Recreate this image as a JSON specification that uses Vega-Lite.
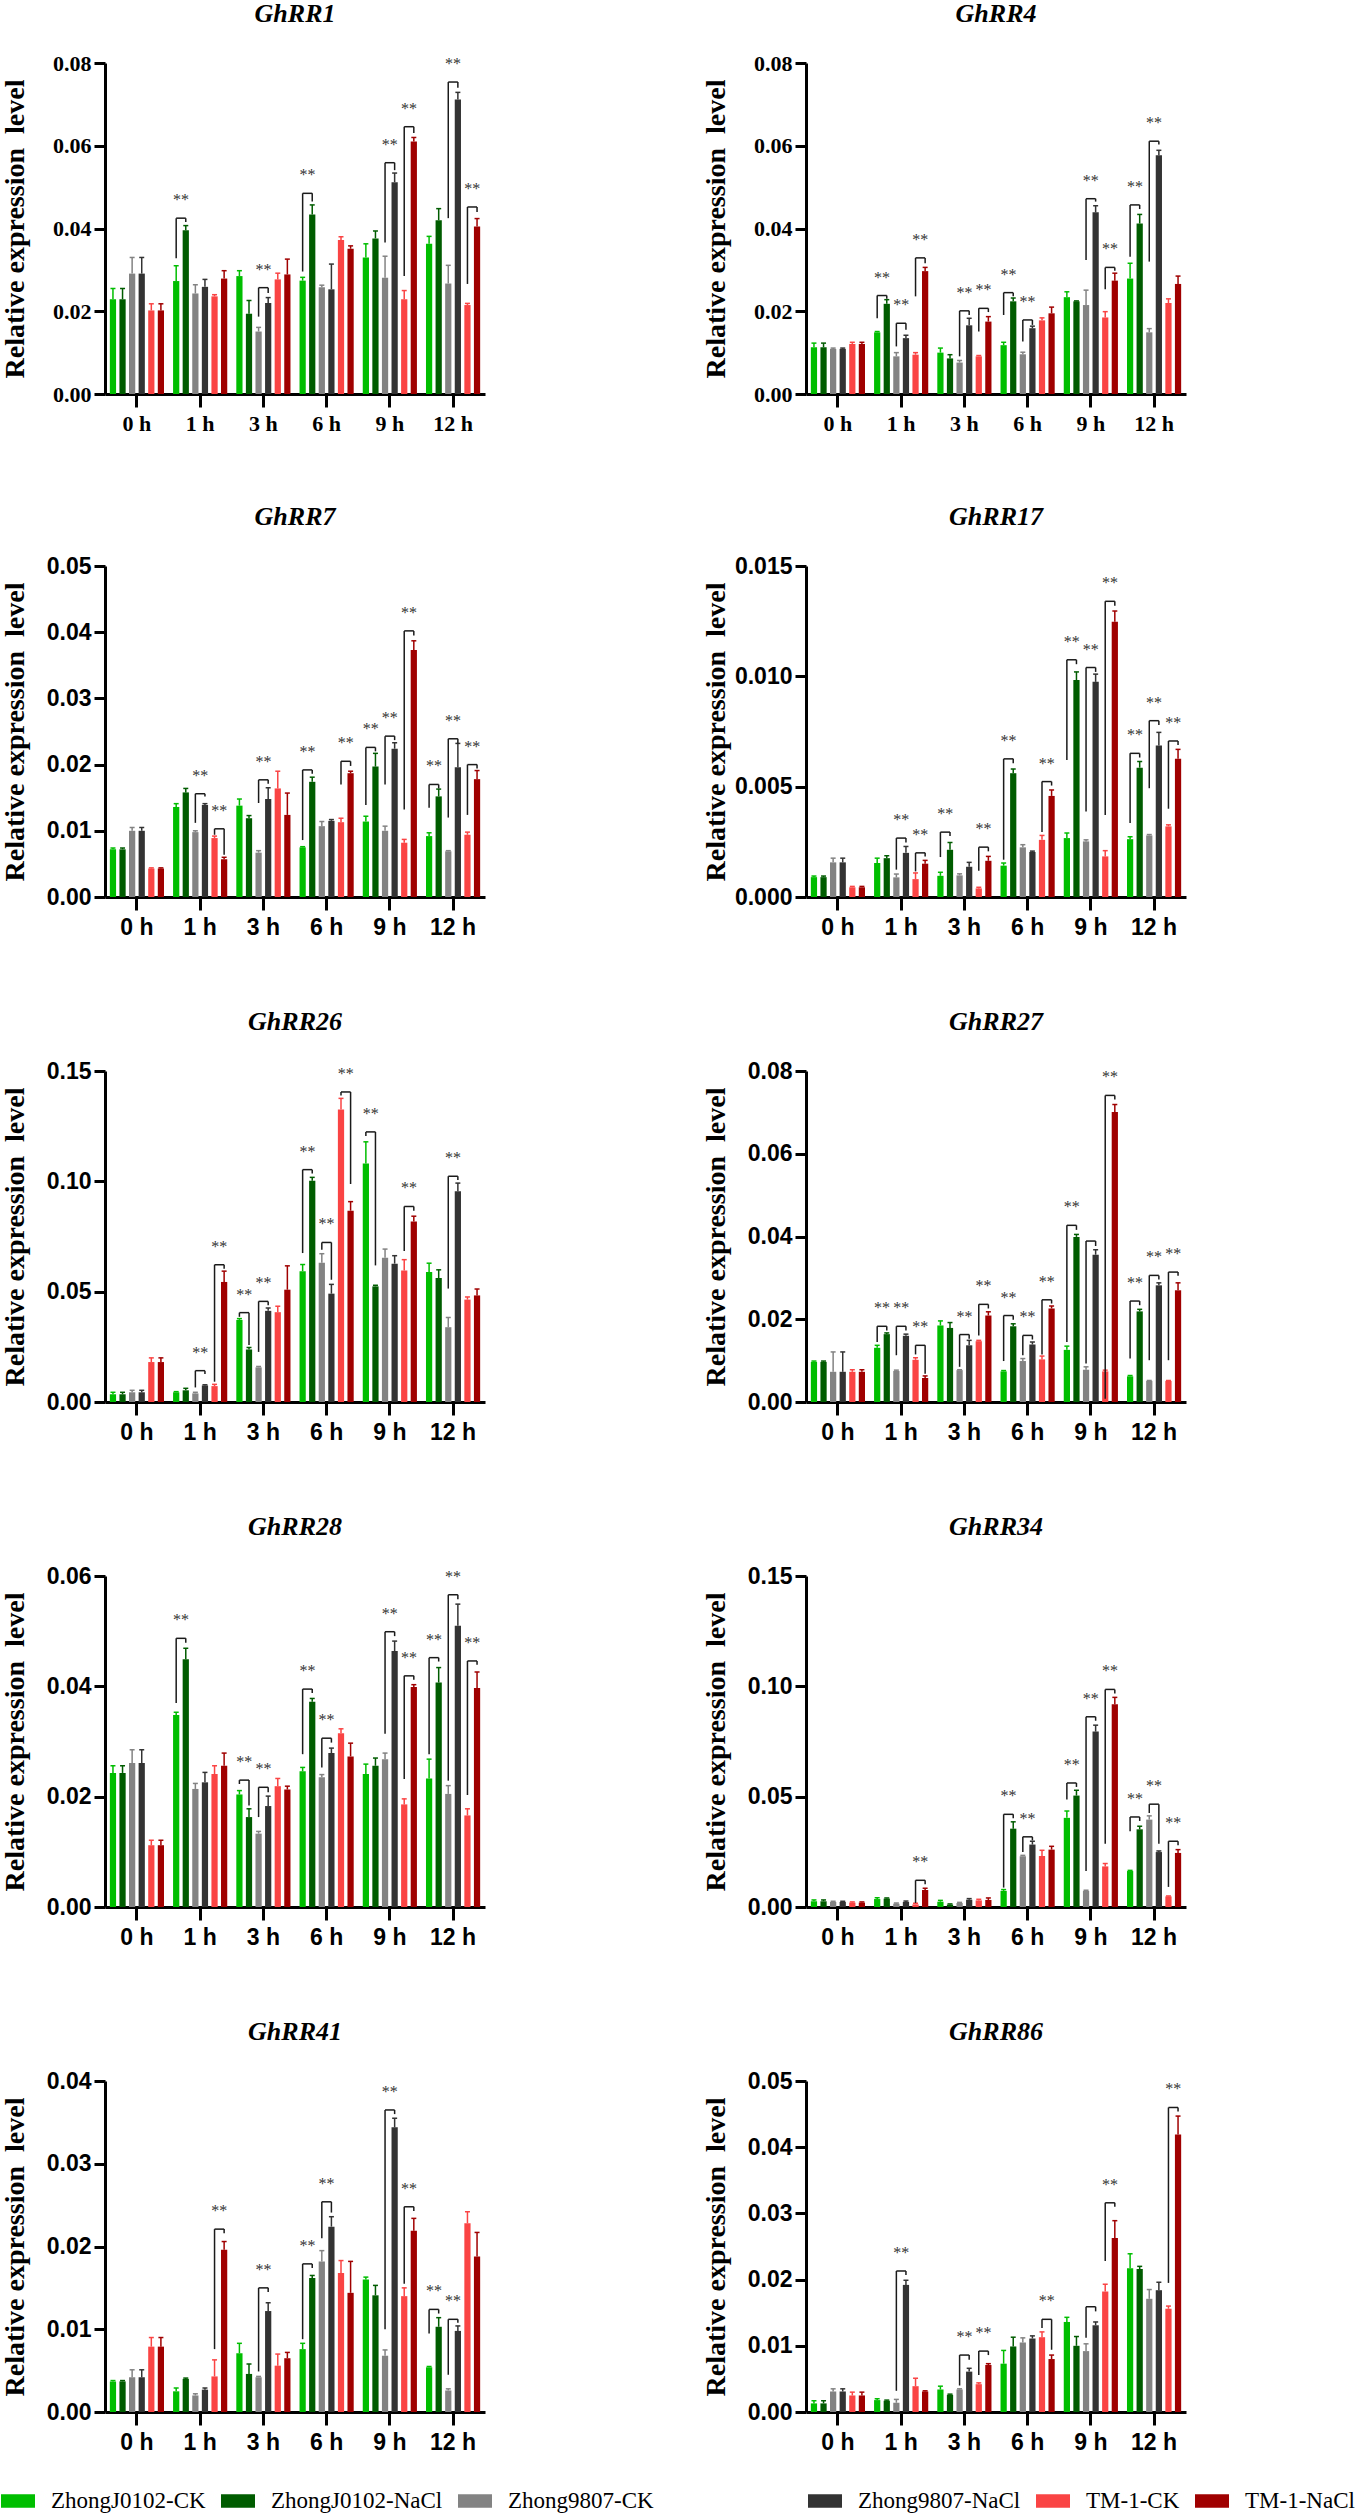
{
"$schema":"https://vega.github.io/schema/vega-lite/v6.json",
"background":"white",
"padding":{"left":0,"top":1,"right":0,"bottom":0},
"columns":2,
"spacing":{"row":70,"column":216},
"datasets":{
"bars":[
{"g":"GhRR1","t":"0 h","s":"ZhongJ0102-CK","v":0.0229,"hi":0.0255},
{"g":"GhRR1","t":"0 h","s":"ZhongJ0102-NaCl","v":0.0229,"hi":0.0255},
{"g":"GhRR1","t":"0 h","s":"Zhong9807-CK","v":0.0291,"hi":0.033},
{"g":"GhRR1","t":"0 h","s":"Zhong9807-NaCl","v":0.0291,"hi":0.033},
{"g":"GhRR1","t":"0 h","s":"TM-1-CK","v":0.0202,"hi":0.0218},
{"g":"GhRR1","t":"0 h","s":"TM-1-NaCl","v":0.0202,"hi":0.0218},
{"g":"GhRR1","t":"1 h","s":"ZhongJ0102-CK","v":0.0273,"hi":0.031},
{"g":"GhRR1","t":"1 h","s":"ZhongJ0102-NaCl","v":0.0396,"hi":0.0407},
{"g":"GhRR1","t":"1 h","s":"Zhong9807-CK","v":0.0243,"hi":0.0264},
{"g":"GhRR1","t":"1 h","s":"Zhong9807-NaCl","v":0.0259,"hi":0.0277},
{"g":"GhRR1","t":"1 h","s":"TM-1-CK","v":0.0236,"hi":0.024},
{"g":"GhRR1","t":"1 h","s":"TM-1-NaCl","v":0.0279,"hi":0.0298},
{"g":"GhRR1","t":"3 h","s":"ZhongJ0102-CK","v":0.0285,"hi":0.0298},
{"g":"GhRR1","t":"3 h","s":"ZhongJ0102-NaCl","v":0.0194,"hi":0.0226},
{"g":"GhRR1","t":"3 h","s":"Zhong9807-CK","v":0.0151,"hi":0.0161},
{"g":"GhRR1","t":"3 h","s":"Zhong9807-NaCl","v":0.022,"hi":0.0233},
{"g":"GhRR1","t":"3 h","s":"TM-1-CK","v":0.0277,"hi":0.0292},
{"g":"GhRR1","t":"3 h","s":"TM-1-NaCl","v":0.0289,"hi":0.0326},
{"g":"GhRR1","t":"6 h","s":"ZhongJ0102-CK","v":0.0274,"hi":0.0282},
{"g":"GhRR1","t":"6 h","s":"ZhongJ0102-NaCl","v":0.0434,"hi":0.0457},
{"g":"GhRR1","t":"6 h","s":"Zhong9807-CK","v":0.0258,"hi":0.0263},
{"g":"GhRR1","t":"6 h","s":"Zhong9807-NaCl","v":0.0253,"hi":0.0314},
{"g":"GhRR1","t":"6 h","s":"TM-1-CK","v":0.0372,"hi":0.038},
{"g":"GhRR1","t":"6 h","s":"TM-1-NaCl","v":0.0351,"hi":0.0358},
{"g":"GhRR1","t":"9 h","s":"ZhongJ0102-CK","v":0.033,"hi":0.0363},
{"g":"GhRR1","t":"9 h","s":"ZhongJ0102-NaCl","v":0.0376,"hi":0.0394},
{"g":"GhRR1","t":"9 h","s":"Zhong9807-CK","v":0.0281,"hi":0.0333},
{"g":"GhRR1","t":"9 h","s":"Zhong9807-NaCl","v":0.0512,"hi":0.0534},
{"g":"GhRR1","t":"9 h","s":"TM-1-CK","v":0.0229,"hi":0.025},
{"g":"GhRR1","t":"9 h","s":"TM-1-NaCl","v":0.061,"hi":0.062},
{"g":"GhRR1","t":"12 h","s":"ZhongJ0102-CK","v":0.0363,"hi":0.0381},
{"g":"GhRR1","t":"12 h","s":"ZhongJ0102-NaCl","v":0.042,"hi":0.0448},
{"g":"GhRR1","t":"12 h","s":"Zhong9807-CK","v":0.0267,"hi":0.0311},
{"g":"GhRR1","t":"12 h","s":"Zhong9807-NaCl","v":0.0712,"hi":0.0729},
{"g":"GhRR1","t":"12 h","s":"TM-1-CK","v":0.0215,"hi":0.0219},
{"g":"GhRR1","t":"12 h","s":"TM-1-NaCl","v":0.0405,"hi":0.0424},
{"g":"GhRR4","t":"0 h","s":"ZhongJ0102-CK","v":0.0113,"hi":0.0123},
{"g":"GhRR4","t":"0 h","s":"ZhongJ0102-NaCl","v":0.0113,"hi":0.0123},
{"g":"GhRR4","t":"0 h","s":"Zhong9807-CK","v":0.0109,"hi":0.0111},
{"g":"GhRR4","t":"0 h","s":"Zhong9807-NaCl","v":0.0109,"hi":0.0111},
{"g":"GhRR4","t":"0 h","s":"TM-1-CK","v":0.0121,"hi":0.0125},
{"g":"GhRR4","t":"0 h","s":"TM-1-NaCl","v":0.0121,"hi":0.0125},
{"g":"GhRR4","t":"1 h","s":"ZhongJ0102-CK","v":0.0149,"hi":0.0151},
{"g":"GhRR4","t":"1 h","s":"ZhongJ0102-NaCl","v":0.0218,"hi":0.0228},
{"g":"GhRR4","t":"1 h","s":"Zhong9807-CK","v":0.0091,"hi":0.01},
{"g":"GhRR4","t":"1 h","s":"Zhong9807-NaCl","v":0.0135,"hi":0.0142},
{"g":"GhRR4","t":"1 h","s":"TM-1-CK","v":0.0095,"hi":0.01},
{"g":"GhRR4","t":"1 h","s":"TM-1-NaCl","v":0.0297,"hi":0.0306},
{"g":"GhRR4","t":"3 h","s":"ZhongJ0102-CK","v":0.01,"hi":0.0111},
{"g":"GhRR4","t":"3 h","s":"ZhongJ0102-NaCl","v":0.0086,"hi":0.0095},
{"g":"GhRR4","t":"3 h","s":"Zhong9807-CK","v":0.0076,"hi":0.0081},
{"g":"GhRR4","t":"3 h","s":"Zhong9807-NaCl","v":0.0166,"hi":0.0183},
{"g":"GhRR4","t":"3 h","s":"TM-1-CK","v":0.0091,"hi":0.0093},
{"g":"GhRR4","t":"3 h","s":"TM-1-NaCl","v":0.0175,"hi":0.0187},
{"g":"GhRR4","t":"6 h","s":"ZhongJ0102-CK","v":0.0118,"hi":0.0125},
{"g":"GhRR4","t":"6 h","s":"ZhongJ0102-NaCl","v":0.0224,"hi":0.0232},
{"g":"GhRR4","t":"6 h","s":"Zhong9807-CK","v":0.0096,"hi":0.0101},
{"g":"GhRR4","t":"6 h","s":"Zhong9807-NaCl","v":0.0159,"hi":0.0164},
{"g":"GhRR4","t":"6 h","s":"TM-1-CK","v":0.0178,"hi":0.0184},
{"g":"GhRR4","t":"6 h","s":"TM-1-NaCl","v":0.0195,"hi":0.021},
{"g":"GhRR4","t":"9 h","s":"ZhongJ0102-CK","v":0.0234,"hi":0.0247},
{"g":"GhRR4","t":"9 h","s":"ZhongJ0102-NaCl","v":0.0224,"hi":0.0225},
{"g":"GhRR4","t":"9 h","s":"Zhong9807-CK","v":0.0215,"hi":0.0251},
{"g":"GhRR4","t":"9 h","s":"Zhong9807-NaCl","v":0.0439,"hi":0.0455},
{"g":"GhRR4","t":"9 h","s":"TM-1-CK","v":0.0185,"hi":0.0199},
{"g":"GhRR4","t":"9 h","s":"TM-1-NaCl","v":0.0274,"hi":0.0292},
{"g":"GhRR4","t":"12 h","s":"ZhongJ0102-CK","v":0.0279,"hi":0.0316},
{"g":"GhRR4","t":"12 h","s":"ZhongJ0102-NaCl","v":0.0412,"hi":0.0434},
{"g":"GhRR4","t":"12 h","s":"Zhong9807-CK","v":0.0149,"hi":0.0158},
{"g":"GhRR4","t":"12 h","s":"Zhong9807-NaCl","v":0.0577,"hi":0.0589},
{"g":"GhRR4","t":"12 h","s":"TM-1-CK","v":0.022,"hi":0.023},
{"g":"GhRR4","t":"12 h","s":"TM-1-NaCl","v":0.0266,"hi":0.0285},
{"g":"GhRR7","t":"0 h","s":"ZhongJ0102-CK","v":0.0072,"hi":0.0074},
{"g":"GhRR7","t":"0 h","s":"ZhongJ0102-NaCl","v":0.0072,"hi":0.0074},
{"g":"GhRR7","t":"0 h","s":"Zhong9807-CK","v":0.01,"hi":0.0105},
{"g":"GhRR7","t":"0 h","s":"Zhong9807-NaCl","v":0.01,"hi":0.0105},
{"g":"GhRR7","t":"0 h","s":"TM-1-CK","v":0.0043,"hi":0.0044},
{"g":"GhRR7","t":"0 h","s":"TM-1-NaCl","v":0.0043,"hi":0.0044},
{"g":"GhRR7","t":"1 h","s":"ZhongJ0102-CK","v":0.0136,"hi":0.0141},
{"g":"GhRR7","t":"1 h","s":"ZhongJ0102-NaCl","v":0.0158,"hi":0.0164},
{"g":"GhRR7","t":"1 h","s":"Zhong9807-CK","v":0.0098,"hi":0.01},
{"g":"GhRR7","t":"1 h","s":"Zhong9807-NaCl","v":0.0139,"hi":0.0141},
{"g":"GhRR7","t":"1 h","s":"TM-1-CK","v":0.0089,"hi":0.0092},
{"g":"GhRR7","t":"1 h","s":"TM-1-NaCl","v":0.0057,"hi":0.006},
{"g":"GhRR7","t":"3 h","s":"ZhongJ0102-CK","v":0.0138,"hi":0.0148},
{"g":"GhRR7","t":"3 h","s":"ZhongJ0102-NaCl","v":0.0119,"hi":0.0123},
{"g":"GhRR7","t":"3 h","s":"Zhong9807-CK","v":0.0067,"hi":0.007},
{"g":"GhRR7","t":"3 h","s":"Zhong9807-NaCl","v":0.0148,"hi":0.0165},
{"g":"GhRR7","t":"3 h","s":"TM-1-CK","v":0.0164,"hi":0.019},
{"g":"GhRR7","t":"3 h","s":"TM-1-NaCl","v":0.0124,"hi":0.0157},
{"g":"GhRR7","t":"6 h","s":"ZhongJ0102-CK","v":0.0075,"hi":0.0076},
{"g":"GhRR7","t":"6 h","s":"ZhongJ0102-NaCl","v":0.0174,"hi":0.0181},
{"g":"GhRR7","t":"6 h","s":"Zhong9807-CK","v":0.0107,"hi":0.0114},
{"g":"GhRR7","t":"6 h","s":"Zhong9807-NaCl","v":0.0115,"hi":0.0117},
{"g":"GhRR7","t":"6 h","s":"TM-1-CK","v":0.0113,"hi":0.0119},
{"g":"GhRR7","t":"6 h","s":"TM-1-NaCl","v":0.0187,"hi":0.019},
{"g":"GhRR7","t":"9 h","s":"ZhongJ0102-CK","v":0.0114,"hi":0.0122},
{"g":"GhRR7","t":"9 h","s":"ZhongJ0102-NaCl","v":0.0197,"hi":0.0217},
{"g":"GhRR7","t":"9 h","s":"Zhong9807-CK","v":0.01,"hi":0.0107},
{"g":"GhRR7","t":"9 h","s":"Zhong9807-NaCl","v":0.0224,"hi":0.0233},
{"g":"GhRR7","t":"9 h","s":"TM-1-CK","v":0.0082,"hi":0.0087},
{"g":"GhRR7","t":"9 h","s":"TM-1-NaCl","v":0.0373,"hi":0.0387},
{"g":"GhRR7","t":"12 h","s":"ZhongJ0102-CK","v":0.0092,"hi":0.0097},
{"g":"GhRR7","t":"12 h","s":"ZhongJ0102-NaCl","v":0.0152,"hi":0.0163},
{"g":"GhRR7","t":"12 h","s":"Zhong9807-CK","v":0.0069,"hi":0.007},
{"g":"GhRR7","t":"12 h","s":"Zhong9807-NaCl","v":0.0196,"hi":0.0232},
{"g":"GhRR7","t":"12 h","s":"TM-1-CK","v":0.0094,"hi":0.0098},
{"g":"GhRR7","t":"12 h","s":"TM-1-NaCl","v":0.0178,"hi":0.0191},
{"g":"GhRR17","t":"0 h","s":"ZhongJ0102-CK","v":0.0009,"hi":0.00095},
{"g":"GhRR17","t":"0 h","s":"ZhongJ0102-NaCl","v":0.0009,"hi":0.00095},
{"g":"GhRR17","t":"0 h","s":"Zhong9807-CK","v":0.00157,"hi":0.00176},
{"g":"GhRR17","t":"0 h","s":"Zhong9807-NaCl","v":0.00157,"hi":0.00176},
{"g":"GhRR17","t":"0 h","s":"TM-1-CK","v":0.00044,"hi":0.00048},
{"g":"GhRR17","t":"0 h","s":"TM-1-NaCl","v":0.00044,"hi":0.00048},
{"g":"GhRR17","t":"1 h","s":"ZhongJ0102-CK","v":0.00154,"hi":0.00176},
{"g":"GhRR17","t":"1 h","s":"ZhongJ0102-NaCl","v":0.00176,"hi":0.00187},
{"g":"GhRR17","t":"1 h","s":"Zhong9807-CK","v":0.00089,"hi":0.00104},
{"g":"GhRR17","t":"1 h","s":"Zhong9807-NaCl","v":0.002,"hi":0.00229},
{"g":"GhRR17","t":"1 h","s":"TM-1-CK","v":0.00081,"hi":0.00109},
{"g":"GhRR17","t":"1 h","s":"TM-1-NaCl","v":0.00151,"hi":0.00166},
{"g":"GhRR17","t":"3 h","s":"ZhongJ0102-CK","v":0.00096,"hi":0.00112},
{"g":"GhRR17","t":"3 h","s":"ZhongJ0102-NaCl","v":0.00214,"hi":0.00247},
{"g":"GhRR17","t":"3 h","s":"Zhong9807-CK","v":0.00098,"hi":0.00105},
{"g":"GhRR17","t":"3 h","s":"Zhong9807-NaCl","v":0.00137,"hi":0.00157},
{"g":"GhRR17","t":"3 h","s":"TM-1-CK","v":0.00039,"hi":0.00044},
{"g":"GhRR17","t":"3 h","s":"TM-1-NaCl","v":0.00164,"hi":0.00184},
{"g":"GhRR17","t":"6 h","s":"ZhongJ0102-CK","v":0.00142,"hi":0.00154},
{"g":"GhRR17","t":"6 h","s":"ZhongJ0102-NaCl","v":0.00561,"hi":0.0058},
{"g":"GhRR17","t":"6 h","s":"Zhong9807-CK","v":0.00225,"hi":0.00237},
{"g":"GhRR17","t":"6 h","s":"Zhong9807-NaCl","v":0.00204,"hi":0.00208},
{"g":"GhRR17","t":"6 h","s":"TM-1-CK","v":0.00259,"hi":0.00279},
{"g":"GhRR17","t":"6 h","s":"TM-1-NaCl","v":0.00458,"hi":0.00485},
{"g":"GhRR17","t":"9 h","s":"ZhongJ0102-CK","v":0.00267,"hi":0.0029},
{"g":"GhRR17","t":"9 h","s":"ZhongJ0102-NaCl","v":0.00983,"hi":0.0102},
{"g":"GhRR17","t":"9 h","s":"Zhong9807-CK","v":0.00252,"hi":0.00259},
{"g":"GhRR17","t":"9 h","s":"Zhong9807-NaCl","v":0.00975,"hi":0.0101},
{"g":"GhRR17","t":"9 h","s":"TM-1-CK","v":0.00184,"hi":0.0021},
{"g":"GhRR17","t":"9 h","s":"TM-1-NaCl","v":0.01247,"hi":0.01296},
{"g":"GhRR17","t":"12 h","s":"ZhongJ0102-CK","v":0.00262,"hi":0.00273},
{"g":"GhRR17","t":"12 h","s":"ZhongJ0102-NaCl","v":0.00586,"hi":0.00614},
{"g":"GhRR17","t":"12 h","s":"Zhong9807-CK","v":0.00279,"hi":0.00283},
{"g":"GhRR17","t":"12 h","s":"Zhong9807-NaCl","v":0.00686,"hi":0.00746},
{"g":"GhRR17","t":"12 h","s":"TM-1-CK","v":0.0032,"hi":0.00327},
{"g":"GhRR17","t":"12 h","s":"TM-1-NaCl","v":0.00626,"hi":0.00669},
{"g":"GhRR26","t":"0 h","s":"ZhongJ0102-CK","v":0.0035,"hi":0.0044},
{"g":"GhRR26","t":"0 h","s":"ZhongJ0102-NaCl","v":0.0035,"hi":0.0044},
{"g":"GhRR26","t":"0 h","s":"Zhong9807-CK","v":0.0044,"hi":0.0053},
{"g":"GhRR26","t":"0 h","s":"Zhong9807-NaCl","v":0.0044,"hi":0.0053},
{"g":"GhRR26","t":"0 h","s":"TM-1-CK","v":0.0181,"hi":0.02},
{"g":"GhRR26","t":"0 h","s":"TM-1-NaCl","v":0.0181,"hi":0.02},
{"g":"GhRR26","t":"1 h","s":"ZhongJ0102-CK","v":0.0044,"hi":0.0047},
{"g":"GhRR26","t":"1 h","s":"ZhongJ0102-NaCl","v":0.0053,"hi":0.0062},
{"g":"GhRR26","t":"1 h","s":"Zhong9807-CK","v":0.0039,"hi":0.0044},
{"g":"GhRR26","t":"1 h","s":"Zhong9807-NaCl","v":0.0075,"hi":0.0078},
{"g":"GhRR26","t":"1 h","s":"TM-1-CK","v":0.0072,"hi":0.008},
{"g":"GhRR26","t":"1 h","s":"TM-1-NaCl","v":0.0544,"hi":0.0593},
{"g":"GhRR26","t":"3 h","s":"ZhongJ0102-CK","v":0.0372,"hi":0.0378},
{"g":"GhRR26","t":"3 h","s":"ZhongJ0102-NaCl","v":0.0238,"hi":0.0247},
{"g":"GhRR26","t":"3 h","s":"Zhong9807-CK","v":0.0157,"hi":0.0161},
{"g":"GhRR26","t":"3 h","s":"Zhong9807-NaCl","v":0.0413,"hi":0.0426},
{"g":"GhRR26","t":"3 h","s":"TM-1-CK","v":0.0407,"hi":0.0434},
{"g":"GhRR26","t":"3 h","s":"TM-1-NaCl","v":0.0509,"hi":0.0617},
{"g":"GhRR26","t":"6 h","s":"ZhongJ0102-CK","v":0.0593,"hi":0.0623},
{"g":"GhRR26","t":"6 h","s":"ZhongJ0102-NaCl","v":0.1003,"hi":0.1018},
{"g":"GhRR26","t":"6 h","s":"Zhong9807-CK","v":0.0631,"hi":0.0672},
{"g":"GhRR26","t":"6 h","s":"Zhong9807-NaCl","v":0.0491,"hi":0.0533},
{"g":"GhRR26","t":"6 h","s":"TM-1-CK","v":0.1325,"hi":0.1376},
{"g":"GhRR26","t":"6 h","s":"TM-1-NaCl","v":0.0867,"hi":0.0908},
{"g":"GhRR26","t":"9 h","s":"ZhongJ0102-CK","v":0.1081,"hi":0.1179},
{"g":"GhRR26","t":"9 h","s":"ZhongJ0102-NaCl","v":0.0524,"hi":0.0529},
{"g":"GhRR26","t":"9 h","s":"Zhong9807-CK","v":0.0654,"hi":0.0693},
{"g":"GhRR26","t":"9 h","s":"Zhong9807-NaCl","v":0.0627,"hi":0.0663},
{"g":"GhRR26","t":"9 h","s":"TM-1-CK","v":0.0596,"hi":0.0645},
{"g":"GhRR26","t":"9 h","s":"TM-1-NaCl","v":0.0818,"hi":0.0842},
{"g":"GhRR26","t":"12 h","s":"ZhongJ0102-CK","v":0.0589,"hi":0.0629},
{"g":"GhRR26","t":"12 h","s":"ZhongJ0102-NaCl","v":0.0562,"hi":0.0599},
{"g":"GhRR26","t":"12 h","s":"Zhong9807-CK","v":0.0339,"hi":0.0383},
{"g":"GhRR26","t":"12 h","s":"Zhong9807-NaCl","v":0.0955,"hi":0.0992},
{"g":"GhRR26","t":"12 h","s":"TM-1-CK","v":0.0464,"hi":0.0476},
{"g":"GhRR26","t":"12 h","s":"TM-1-NaCl","v":0.0483,"hi":0.0512},
{"g":"GhRR27","t":"0 h","s":"ZhongJ0102-CK","v":0.0097,"hi":0.0099},
{"g":"GhRR27","t":"0 h","s":"ZhongJ0102-NaCl","v":0.0097,"hi":0.0099},
{"g":"GhRR27","t":"0 h","s":"Zhong9807-CK","v":0.0073,"hi":0.0121},
{"g":"GhRR27","t":"0 h","s":"Zhong9807-NaCl","v":0.0073,"hi":0.0121},
{"g":"GhRR27","t":"0 h","s":"TM-1-CK","v":0.0073,"hi":0.0078},
{"g":"GhRR27","t":"0 h","s":"TM-1-NaCl","v":0.0073,"hi":0.0078},
{"g":"GhRR27","t":"1 h","s":"ZhongJ0102-CK","v":0.0131,"hi":0.0137},
{"g":"GhRR27","t":"1 h","s":"ZhongJ0102-NaCl","v":0.0164,"hi":0.0167},
{"g":"GhRR27","t":"1 h","s":"Zhong9807-CK","v":0.0075,"hi":0.0077},
{"g":"GhRR27","t":"1 h","s":"Zhong9807-NaCl","v":0.016,"hi":0.0164},
{"g":"GhRR27","t":"1 h","s":"TM-1-CK","v":0.0102,"hi":0.0107},
{"g":"GhRR27","t":"1 h","s":"TM-1-NaCl","v":0.0058,"hi":0.0063},
{"g":"GhRR27","t":"3 h","s":"ZhongJ0102-CK","v":0.0185,"hi":0.0196},
{"g":"GhRR27","t":"3 h","s":"ZhongJ0102-NaCl","v":0.0179,"hi":0.0192},
{"g":"GhRR27","t":"3 h","s":"Zhong9807-CK","v":0.0077,"hi":0.0078},
{"g":"GhRR27","t":"3 h","s":"Zhong9807-NaCl","v":0.0137,"hi":0.0149},
{"g":"GhRR27","t":"3 h","s":"TM-1-CK","v":0.0147,"hi":0.0149},
{"g":"GhRR27","t":"3 h","s":"TM-1-NaCl","v":0.0209,"hi":0.0218},
{"g":"GhRR27","t":"6 h","s":"ZhongJ0102-CK","v":0.0074,"hi":0.0076},
{"g":"GhRR27","t":"6 h","s":"ZhongJ0102-NaCl","v":0.0183,"hi":0.0189},
{"g":"GhRR27","t":"6 h","s":"Zhong9807-CK","v":0.0099,"hi":0.0105},
{"g":"GhRR27","t":"6 h","s":"Zhong9807-NaCl","v":0.0139,"hi":0.0145},
{"g":"GhRR27","t":"6 h","s":"TM-1-CK","v":0.0103,"hi":0.0111},
{"g":"GhRR27","t":"6 h","s":"TM-1-NaCl","v":0.0226,"hi":0.0232},
{"g":"GhRR27","t":"9 h","s":"ZhongJ0102-CK","v":0.0126,"hi":0.0135},
{"g":"GhRR27","t":"9 h","s":"ZhongJ0102-NaCl","v":0.0399,"hi":0.0405},
{"g":"GhRR27","t":"9 h","s":"Zhong9807-CK","v":0.0078,"hi":0.0085},
{"g":"GhRR27","t":"9 h","s":"Zhong9807-NaCl","v":0.0356,"hi":0.0368},
{"g":"GhRR27","t":"9 h","s":"TM-1-CK","v":0.0074,"hi":0.0077},
{"g":"GhRR27","t":"9 h","s":"TM-1-NaCl","v":0.0701,"hi":0.0719},
{"g":"GhRR27","t":"12 h","s":"ZhongJ0102-CK","v":0.0062,"hi":0.0064},
{"g":"GhRR27","t":"12 h","s":"ZhongJ0102-NaCl","v":0.0219,"hi":0.0224},
{"g":"GhRR27","t":"12 h","s":"Zhong9807-CK","v":0.0051,"hi":0.0052},
{"g":"GhRR27","t":"12 h","s":"Zhong9807-NaCl","v":0.0282,"hi":0.0288},
{"g":"GhRR27","t":"12 h","s":"TM-1-CK","v":0.0051,"hi":0.0052},
{"g":"GhRR27","t":"12 h","s":"TM-1-NaCl","v":0.027,"hi":0.0288},
{"g":"GhRR28","t":"0 h","s":"ZhongJ0102-CK","v":0.0243,"hi":0.0256},
{"g":"GhRR28","t":"0 h","s":"ZhongJ0102-NaCl","v":0.0243,"hi":0.0256},
{"g":"GhRR28","t":"0 h","s":"Zhong9807-CK","v":0.0261,"hi":0.0285},
{"g":"GhRR28","t":"0 h","s":"Zhong9807-NaCl","v":0.0261,"hi":0.0285},
{"g":"GhRR28","t":"0 h","s":"TM-1-CK","v":0.0112,"hi":0.0121},
{"g":"GhRR28","t":"0 h","s":"TM-1-NaCl","v":0.0112,"hi":0.0121},
{"g":"GhRR28","t":"1 h","s":"ZhongJ0102-CK","v":0.0348,"hi":0.0353},
{"g":"GhRR28","t":"1 h","s":"ZhongJ0102-NaCl","v":0.0449,"hi":0.0469},
{"g":"GhRR28","t":"1 h","s":"Zhong9807-CK","v":0.0214,"hi":0.0224},
{"g":"GhRR28","t":"1 h","s":"Zhong9807-NaCl","v":0.0226,"hi":0.0244},
{"g":"GhRR28","t":"1 h","s":"TM-1-CK","v":0.0241,"hi":0.0256},
{"g":"GhRR28","t":"1 h","s":"TM-1-NaCl","v":0.0256,"hi":0.0279},
{"g":"GhRR28","t":"3 h","s":"ZhongJ0102-CK","v":0.0204,"hi":0.0211},
{"g":"GhRR28","t":"3 h","s":"ZhongJ0102-NaCl","v":0.0163,"hi":0.0178},
{"g":"GhRR28","t":"3 h","s":"Zhong9807-CK","v":0.0133,"hi":0.0137},
{"g":"GhRR28","t":"3 h","s":"Zhong9807-NaCl","v":0.0183,"hi":0.0201},
{"g":"GhRR28","t":"3 h","s":"TM-1-CK","v":0.0219,"hi":0.0233},
{"g":"GhRR28","t":"3 h","s":"TM-1-NaCl","v":0.0213,"hi":0.0219},
{"g":"GhRR28","t":"6 h","s":"ZhongJ0102-CK","v":0.0246,"hi":0.0253},
{"g":"GhRR28","t":"6 h","s":"ZhongJ0102-NaCl","v":0.0372,"hi":0.0378},
{"g":"GhRR28","t":"6 h","s":"Zhong9807-CK","v":0.0235,"hi":0.024},
{"g":"GhRR28","t":"6 h","s":"Zhong9807-NaCl","v":0.0279,"hi":0.0288},
{"g":"GhRR28","t":"6 h","s":"TM-1-CK","v":0.0315,"hi":0.0323},
{"g":"GhRR28","t":"6 h","s":"TM-1-NaCl","v":0.0273,"hi":0.0297},
{"g":"GhRR28","t":"9 h","s":"ZhongJ0102-CK","v":0.0241,"hi":0.0259},
{"g":"GhRR28","t":"9 h","s":"ZhongJ0102-NaCl","v":0.0256,"hi":0.027},
{"g":"GhRR28","t":"9 h","s":"Zhong9807-CK","v":0.0268,"hi":0.0279},
{"g":"GhRR28","t":"9 h","s":"Zhong9807-NaCl","v":0.0464,"hi":0.0482},
{"g":"GhRR28","t":"9 h","s":"TM-1-CK","v":0.0186,"hi":0.0196},
{"g":"GhRR28","t":"9 h","s":"TM-1-NaCl","v":0.0399,"hi":0.0403},
{"g":"GhRR28","t":"12 h","s":"ZhongJ0102-CK","v":0.0233,"hi":0.0268},
{"g":"GhRR28","t":"12 h","s":"ZhongJ0102-NaCl","v":0.0407,"hi":0.0434},
{"g":"GhRR28","t":"12 h","s":"Zhong9807-CK","v":0.0205,"hi":0.022},
{"g":"GhRR28","t":"12 h","s":"Zhong9807-NaCl","v":0.051,"hi":0.0549},
{"g":"GhRR28","t":"12 h","s":"TM-1-CK","v":0.0166,"hi":0.0178},
{"g":"GhRR28","t":"12 h","s":"TM-1-NaCl","v":0.0397,"hi":0.0426},
{"g":"GhRR34","t":"0 h","s":"ZhongJ0102-CK","v":0.0026,"hi":0.0032},
{"g":"GhRR34","t":"0 h","s":"ZhongJ0102-NaCl","v":0.0026,"hi":0.0032},
{"g":"GhRR34","t":"0 h","s":"Zhong9807-CK","v":0.0023,"hi":0.0026},
{"g":"GhRR34","t":"0 h","s":"Zhong9807-NaCl","v":0.0023,"hi":0.0026},
{"g":"GhRR34","t":"0 h","s":"TM-1-CK","v":0.002,"hi":0.0023},
{"g":"GhRR34","t":"0 h","s":"TM-1-NaCl","v":0.002,"hi":0.0023},
{"g":"GhRR34","t":"1 h","s":"ZhongJ0102-CK","v":0.0036,"hi":0.0042},
{"g":"GhRR34","t":"1 h","s":"ZhongJ0102-NaCl","v":0.0038,"hi":0.0041},
{"g":"GhRR34","t":"1 h","s":"Zhong9807-CK","v":0.0015,"hi":0.0018},
{"g":"GhRR34","t":"1 h","s":"Zhong9807-NaCl","v":0.0023,"hi":0.0027},
{"g":"GhRR34","t":"1 h","s":"TM-1-CK","v":0.0012,"hi":0.0017},
{"g":"GhRR34","t":"1 h","s":"TM-1-NaCl","v":0.0077,"hi":0.0085},
{"g":"GhRR34","t":"3 h","s":"ZhongJ0102-CK","v":0.0024,"hi":0.003},
{"g":"GhRR34","t":"3 h","s":"ZhongJ0102-NaCl","v":0.0011,"hi":0.0014},
{"g":"GhRR34","t":"3 h","s":"Zhong9807-CK","v":0.0018,"hi":0.0021},
{"g":"GhRR34","t":"3 h","s":"Zhong9807-NaCl","v":0.0033,"hi":0.0038},
{"g":"GhRR34","t":"3 h","s":"TM-1-CK","v":0.003,"hi":0.0035},
{"g":"GhRR34","t":"3 h","s":"TM-1-NaCl","v":0.0032,"hi":0.0041},
{"g":"GhRR34","t":"6 h","s":"ZhongJ0102-CK","v":0.0073,"hi":0.0079},
{"g":"GhRR34","t":"6 h","s":"ZhongJ0102-NaCl","v":0.0355,"hi":0.0386},
{"g":"GhRR34","t":"6 h","s":"Zhong9807-CK","v":0.023,"hi":0.0234},
{"g":"GhRR34","t":"6 h","s":"Zhong9807-NaCl","v":0.0283,"hi":0.0298},
{"g":"GhRR34","t":"6 h","s":"TM-1-CK","v":0.0231,"hi":0.0257},
{"g":"GhRR34","t":"6 h","s":"TM-1-NaCl","v":0.026,"hi":0.0275},
{"g":"GhRR34","t":"9 h","s":"ZhongJ0102-CK","v":0.0404,"hi":0.0435},
{"g":"GhRR34","t":"9 h","s":"ZhongJ0102-NaCl","v":0.0505,"hi":0.0529},
{"g":"GhRR34","t":"9 h","s":"Zhong9807-CK","v":0.0073,"hi":0.0076},
{"g":"GhRR34","t":"9 h","s":"Zhong9807-NaCl","v":0.0795,"hi":0.0824},
{"g":"GhRR34","t":"9 h","s":"TM-1-CK","v":0.0184,"hi":0.0197},
{"g":"GhRR34","t":"9 h","s":"TM-1-NaCl","v":0.0919,"hi":0.095},
{"g":"GhRR34","t":"12 h","s":"ZhongJ0102-CK","v":0.0163,"hi":0.0166},
{"g":"GhRR34","t":"12 h","s":"ZhongJ0102-NaCl","v":0.0352,"hi":0.0366},
{"g":"GhRR34","t":"12 h","s":"Zhong9807-CK","v":0.0396,"hi":0.0413},
{"g":"GhRR34","t":"12 h","s":"Zhong9807-NaCl","v":0.0249,"hi":0.0254},
{"g":"GhRR34","t":"12 h","s":"TM-1-CK","v":0.0048,"hi":0.005},
{"g":"GhRR34","t":"12 h","s":"TM-1-NaCl","v":0.0245,"hi":0.026},
{"g":"GhRR41","t":"0 h","s":"ZhongJ0102-CK","v":0.0037,"hi":0.0038},
{"g":"GhRR41","t":"0 h","s":"ZhongJ0102-NaCl","v":0.0037,"hi":0.0038},
{"g":"GhRR41","t":"0 h","s":"Zhong9807-CK","v":0.0042,"hi":0.0051},
{"g":"GhRR41","t":"0 h","s":"Zhong9807-NaCl","v":0.0042,"hi":0.0051},
{"g":"GhRR41","t":"0 h","s":"TM-1-CK","v":0.0079,"hi":0.009},
{"g":"GhRR41","t":"0 h","s":"TM-1-NaCl","v":0.0079,"hi":0.009},
{"g":"GhRR41","t":"1 h","s":"ZhongJ0102-CK","v":0.0025,"hi":0.0029},
{"g":"GhRR41","t":"1 h","s":"ZhongJ0102-NaCl","v":0.004,"hi":0.0041},
{"g":"GhRR41","t":"1 h","s":"Zhong9807-CK","v":0.002,"hi":0.0022},
{"g":"GhRR41","t":"1 h","s":"Zhong9807-NaCl","v":0.0027,"hi":0.0029},
{"g":"GhRR41","t":"1 h","s":"TM-1-CK","v":0.0043,"hi":0.0063},
{"g":"GhRR41","t":"1 h","s":"TM-1-NaCl","v":0.0196,"hi":0.0206},
{"g":"GhRR41","t":"3 h","s":"ZhongJ0102-CK","v":0.0071,"hi":0.0083},
{"g":"GhRR41","t":"3 h","s":"ZhongJ0102-NaCl","v":0.0046,"hi":0.0058},
{"g":"GhRR41","t":"3 h","s":"Zhong9807-CK","v":0.0042,"hi":0.0043},
{"g":"GhRR41","t":"3 h","s":"Zhong9807-NaCl","v":0.0122,"hi":0.0132},
{"g":"GhRR41","t":"3 h","s":"TM-1-CK","v":0.0056,"hi":0.007},
{"g":"GhRR41","t":"3 h","s":"TM-1-NaCl","v":0.0065,"hi":0.0072},
{"g":"GhRR41","t":"6 h","s":"ZhongJ0102-CK","v":0.0076,"hi":0.0083},
{"g":"GhRR41","t":"6 h","s":"ZhongJ0102-NaCl","v":0.0162,"hi":0.0165},
{"g":"GhRR41","t":"6 h","s":"Zhong9807-CK","v":0.0182,"hi":0.0195},
{"g":"GhRR41","t":"6 h","s":"Zhong9807-NaCl","v":0.0224,"hi":0.0236},
{"g":"GhRR41","t":"6 h","s":"TM-1-CK","v":0.0168,"hi":0.0183},
{"g":"GhRR41","t":"6 h","s":"TM-1-NaCl","v":0.0144,"hi":0.0182},
{"g":"GhRR41","t":"9 h","s":"ZhongJ0102-CK","v":0.016,"hi":0.0163},
{"g":"GhRR41","t":"9 h","s":"ZhongJ0102-NaCl","v":0.0141,"hi":0.0153},
{"g":"GhRR41","t":"9 h","s":"Zhong9807-CK","v":0.0068,"hi":0.0075},
{"g":"GhRR41","t":"9 h","s":"Zhong9807-NaCl","v":0.0344,"hi":0.0355},
{"g":"GhRR41","t":"9 h","s":"TM-1-CK","v":0.014,"hi":0.015},
{"g":"GhRR41","t":"9 h","s":"TM-1-NaCl","v":0.0219,"hi":0.0234},
{"g":"GhRR41","t":"12 h","s":"ZhongJ0102-CK","v":0.0054,"hi":0.0055},
{"g":"GhRR41","t":"12 h","s":"ZhongJ0102-NaCl","v":0.0103,"hi":0.0114},
{"g":"GhRR41","t":"12 h","s":"Zhong9807-CK","v":0.0026,"hi":0.0028},
{"g":"GhRR41","t":"12 h","s":"Zhong9807-NaCl","v":0.0098,"hi":0.0104},
{"g":"GhRR41","t":"12 h","s":"TM-1-CK","v":0.0228,"hi":0.0242},
{"g":"GhRR41","t":"12 h","s":"TM-1-NaCl","v":0.0188,"hi":0.0217},
{"g":"GhRR86","t":"0 h","s":"ZhongJ0102-CK","v":0.0013,"hi":0.0017},
{"g":"GhRR86","t":"0 h","s":"ZhongJ0102-NaCl","v":0.0013,"hi":0.0017},
{"g":"GhRR86","t":"0 h","s":"Zhong9807-CK","v":0.0031,"hi":0.0035},
{"g":"GhRR86","t":"0 h","s":"Zhong9807-NaCl","v":0.0031,"hi":0.0035},
{"g":"GhRR86","t":"0 h","s":"TM-1-CK","v":0.0025,"hi":0.003},
{"g":"GhRR86","t":"0 h","s":"TM-1-NaCl","v":0.0025,"hi":0.003},
{"g":"GhRR86","t":"1 h","s":"ZhongJ0102-CK","v":0.0018,"hi":0.002},
{"g":"GhRR86","t":"1 h","s":"ZhongJ0102-NaCl","v":0.0017,"hi":0.0018},
{"g":"GhRR86","t":"1 h","s":"Zhong9807-CK","v":0.0014,"hi":0.0019},
{"g":"GhRR86","t":"1 h","s":"Zhong9807-NaCl","v":0.0192,"hi":0.0199},
{"g":"GhRR86","t":"1 h","s":"TM-1-CK","v":0.0039,"hi":0.0051},
{"g":"GhRR86","t":"1 h","s":"TM-1-NaCl","v":0.0031,"hi":0.0032},
{"g":"GhRR86","t":"3 h","s":"ZhongJ0102-CK","v":0.0034,"hi":0.0039},
{"g":"GhRR86","t":"3 h","s":"ZhongJ0102-NaCl","v":0.0026,"hi":0.0027},
{"g":"GhRR86","t":"3 h","s":"Zhong9807-CK","v":0.0034,"hi":0.0035},
{"g":"GhRR86","t":"3 h","s":"Zhong9807-NaCl","v":0.0061,"hi":0.0066},
{"g":"GhRR86","t":"3 h","s":"TM-1-CK","v":0.0042,"hi":0.0044},
{"g":"GhRR86","t":"3 h","s":"TM-1-NaCl","v":0.0071,"hi":0.0073},
{"g":"GhRR86","t":"6 h","s":"ZhongJ0102-CK","v":0.0073,"hi":0.0093},
{"g":"GhRR86","t":"6 h","s":"ZhongJ0102-NaCl","v":0.0099,"hi":0.0113},
{"g":"GhRR86","t":"6 h","s":"Zhong9807-CK","v":0.0105,"hi":0.0112},
{"g":"GhRR86","t":"6 h","s":"Zhong9807-NaCl","v":0.0111,"hi":0.0115},
{"g":"GhRR86","t":"6 h","s":"TM-1-CK","v":0.0113,"hi":0.0121},
{"g":"GhRR86","t":"6 h","s":"TM-1-NaCl","v":0.008,"hi":0.0086},
{"g":"GhRR86","t":"9 h","s":"ZhongJ0102-CK","v":0.0136,"hi":0.0143},
{"g":"GhRR86","t":"9 h","s":"ZhongJ0102-NaCl","v":0.01,"hi":0.0114},
{"g":"GhRR86","t":"9 h","s":"Zhong9807-CK","v":0.0092,"hi":0.0103},
{"g":"GhRR86","t":"9 h","s":"Zhong9807-NaCl","v":0.0131,"hi":0.0136},
{"g":"GhRR86","t":"9 h","s":"TM-1-CK","v":0.0182,"hi":0.0193},
{"g":"GhRR86","t":"9 h","s":"TM-1-NaCl","v":0.0263,"hi":0.0289},
{"g":"GhRR86","t":"12 h","s":"ZhongJ0102-CK","v":0.0217,"hi":0.0239},
{"g":"GhRR86","t":"12 h","s":"ZhongJ0102-NaCl","v":0.0216,"hi":0.022},
{"g":"GhRR86","t":"12 h","s":"Zhong9807-CK","v":0.0171,"hi":0.0185},
{"g":"GhRR86","t":"12 h","s":"Zhong9807-NaCl","v":0.0184,"hi":0.0196},
{"g":"GhRR86","t":"12 h","s":"TM-1-CK","v":0.0156,"hi":0.016},
{"g":"GhRR86","t":"12 h","s":"TM-1-NaCl","v":0.0419,"hi":0.0447}
],
"brk":[
{"g":"GhRR1","t":"1 h","a":"ZhongJ0102-CK","b":"ZhongJ0102-NaCl","lo1":0.0328,"lo2":0.0416,"top":0.0425,"lab":"**"},
{"g":"GhRR1","t":"3 h","a":"Zhong9807-CK","b":"Zhong9807-NaCl","lo1":0.0187,"lo2":0.0244,"top":0.0257,"lab":"**"},
{"g":"GhRR1","t":"6 h","a":"ZhongJ0102-CK","b":"ZhongJ0102-NaCl","lo1":0.0296,"lo2":0.0465,"top":0.0485,"lab":"**"},
{"g":"GhRR1","t":"9 h","a":"Zhong9807-CK","b":"Zhong9807-NaCl","lo1":0.0366,"lo2":0.0541,"top":0.0559,"lab":"**"},
{"g":"GhRR1","t":"9 h","a":"TM-1-CK","b":"TM-1-NaCl","lo1":0.0285,"lo2":0.0631,"top":0.0646,"lab":"**"},
{"g":"GhRR1","t":"12 h","a":"Zhong9807-CK","b":"Zhong9807-NaCl","lo1":0.0425,"lo2":0.074,"top":0.0754,"lab":"**"},
{"g":"GhRR1","t":"12 h","a":"TM-1-CK","b":"TM-1-NaCl","lo1":0.0266,"lo2":0.044,"top":0.0452,"lab":"**"},
{"g":"GhRR4","t":"1 h","a":"ZhongJ0102-CK","b":"ZhongJ0102-NaCl","lo1":0.0183,"lo2":0.023,"top":0.0238,"lab":"**"},
{"g":"GhRR4","t":"1 h","a":"Zhong9807-CK","b":"Zhong9807-NaCl","lo1":0.0115,"lo2":0.0155,"top":0.0171,"lab":"**"},
{"g":"GhRR4","t":"1 h","a":"TM-1-CK","b":"TM-1-NaCl","lo1":0.0236,"lo2":0.0316,"top":0.0329,"lab":"**"},
{"g":"GhRR4","t":"3 h","a":"Zhong9807-CK","b":"Zhong9807-NaCl","lo1":0.0091,"lo2":0.0191,"top":0.0201,"lab":"**"},
{"g":"GhRR4","t":"3 h","a":"TM-1-CK","b":"TM-1-NaCl","lo1":0.0151,"lo2":0.0198,"top":0.0207,"lab":"**"},
{"g":"GhRR4","t":"6 h","a":"ZhongJ0102-CK","b":"ZhongJ0102-NaCl","lo1":0.0191,"lo2":0.0236,"top":0.0245,"lab":"**"},
{"g":"GhRR4","t":"6 h","a":"Zhong9807-CK","b":"Zhong9807-NaCl","lo1":0.0127,"lo2":0.0167,"top":0.0179,"lab":"**"},
{"g":"GhRR4","t":"9 h","a":"Zhong9807-CK","b":"Zhong9807-NaCl","lo1":0.0324,"lo2":0.0465,"top":0.0472,"lab":"**"},
{"g":"GhRR4","t":"9 h","a":"TM-1-CK","b":"TM-1-NaCl","lo1":0.0253,"lo2":0.0298,"top":0.0306,"lab":"**"},
{"g":"GhRR4","t":"12 h","a":"ZhongJ0102-CK","b":"ZhongJ0102-NaCl","lo1":0.0332,"lo2":0.0447,"top":0.0457,"lab":"**"},
{"g":"GhRR4","t":"12 h","a":"Zhong9807-CK","b":"Zhong9807-NaCl","lo1":0.032,"lo2":0.0603,"top":0.0611,"lab":"**"},
{"g":"GhRR7","t":"1 h","a":"Zhong9807-CK","b":"Zhong9807-NaCl","lo1":0.0112,"lo2":0.0152,"top":0.0156,"lab":"**"},
{"g":"GhRR7","t":"1 h","a":"TM-1-CK","b":"TM-1-NaCl","lo1":0.0094,"lo2":0.0064,"top":0.0103,"lab":"**"},
{"g":"GhRR7","t":"3 h","a":"Zhong9807-CK","b":"Zhong9807-NaCl","lo1":0.0142,"lo2":0.0171,"top":0.0177,"lab":"**"},
{"g":"GhRR7","t":"6 h","a":"ZhongJ0102-CK","b":"ZhongJ0102-NaCl","lo1":0.0086,"lo2":0.0186,"top":0.0192,"lab":"**"},
{"g":"GhRR7","t":"6 h","a":"TM-1-CK","b":"TM-1-NaCl","lo1":0.017,"lo2":0.0198,"top":0.0205,"lab":"**"},
{"g":"GhRR7","t":"9 h","a":"ZhongJ0102-CK","b":"ZhongJ0102-NaCl","lo1":0.0139,"lo2":0.022,"top":0.0226,"lab":"**"},
{"g":"GhRR7","t":"9 h","a":"Zhong9807-CK","b":"Zhong9807-NaCl","lo1":0.017,"lo2":0.0237,"top":0.0243,"lab":"**"},
{"g":"GhRR7","t":"9 h","a":"TM-1-CK","b":"TM-1-NaCl","lo1":0.0132,"lo2":0.0395,"top":0.0402,"lab":"**"},
{"g":"GhRR7","t":"12 h","a":"ZhongJ0102-CK","b":"ZhongJ0102-NaCl","lo1":0.0135,"lo2":0.0164,"top":0.017,"lab":"**"},
{"g":"GhRR7","t":"12 h","a":"Zhong9807-CK","b":"Zhong9807-NaCl","lo1":0.012,"lo2":0.0232,"top":0.0239,"lab":"**"},
{"g":"GhRR7","t":"12 h","a":"TM-1-CK","b":"TM-1-NaCl","lo1":0.0124,"lo2":0.0194,"top":0.02,"lab":"**"},
{"g":"GhRR17","t":"1 h","a":"Zhong9807-CK","b":"Zhong9807-NaCl","lo1":0.00124,"lo2":0.00247,"top":0.00267,"lab":"**"},
{"g":"GhRR17","t":"1 h","a":"TM-1-CK","b":"TM-1-NaCl","lo1":0.00116,"lo2":0.00184,"top":0.002,"lab":"**"},
{"g":"GhRR17","t":"3 h","a":"ZhongJ0102-CK","b":"ZhongJ0102-NaCl","lo1":0.00181,"lo2":0.00276,"top":0.00294,"lab":"**"},
{"g":"GhRR17","t":"3 h","a":"TM-1-CK","b":"TM-1-NaCl","lo1":0.00119,"lo2":0.00207,"top":0.00226,"lab":"**"},
{"g":"GhRR17","t":"6 h","a":"ZhongJ0102-CK","b":"ZhongJ0102-NaCl","lo1":0.00169,"lo2":0.00606,"top":0.00626,"lab":"**"},
{"g":"GhRR17","t":"6 h","a":"TM-1-CK","b":"TM-1-NaCl","lo1":0.00294,"lo2":0.00505,"top":0.00523,"lab":"**"},
{"g":"GhRR17","t":"9 h","a":"ZhongJ0102-CK","b":"ZhongJ0102-NaCl","lo1":0.00621,"lo2":0.01055,"top":0.01075,"lab":"**"},
{"g":"GhRR17","t":"9 h","a":"Zhong9807-CK","b":"Zhong9807-NaCl","lo1":0.00387,"lo2":0.0102,"top":0.0104,"lab":"**"},
{"g":"GhRR17","t":"9 h","a":"TM-1-CK","b":"TM-1-NaCl","lo1":0.00372,"lo2":0.0132,"top":0.0134,"lab":"**"},
{"g":"GhRR17","t":"12 h","a":"ZhongJ0102-CK","b":"ZhongJ0102-NaCl","lo1":0.00335,"lo2":0.00632,"top":0.00651,"lab":"**"},
{"g":"GhRR17","t":"12 h","a":"Zhong9807-CK","b":"Zhong9807-NaCl","lo1":0.00493,"lo2":0.00779,"top":0.00799,"lab":"**"},
{"g":"GhRR17","t":"12 h","a":"TM-1-CK","b":"TM-1-NaCl","lo1":0.004,"lo2":0.00689,"top":0.00707,"lab":"**"},
{"g":"GhRR26","t":"1 h","a":"Zhong9807-CK","b":"Zhong9807-NaCl","lo1":0.0066,"lo2":0.0127,"top":0.0142,"lab":"**"},
{"g":"GhRR26","t":"1 h","a":"TM-1-CK","b":"TM-1-NaCl","lo1":0.0092,"lo2":0.0604,"top":0.0622,"lab":"**"},
{"g":"GhRR26","t":"3 h","a":"ZhongJ0102-CK","b":"ZhongJ0102-NaCl","lo1":0.0386,"lo2":0.0258,"top":0.0405,"lab":"**"},
{"g":"GhRR26","t":"3 h","a":"Zhong9807-CK","b":"Zhong9807-NaCl","lo1":0.0227,"lo2":0.0438,"top":0.0456,"lab":"**"},
{"g":"GhRR26","t":"6 h","a":"ZhongJ0102-CK","b":"ZhongJ0102-NaCl","lo1":0.0675,"lo2":0.1036,"top":0.1053,"lab":"**"},
{"g":"GhRR26","t":"6 h","a":"Zhong9807-CK","b":"Zhong9807-NaCl","lo1":0.069,"lo2":0.0554,"top":0.0723,"lab":"**"},
{"g":"GhRR26","t":"6 h","a":"TM-1-CK","b":"TM-1-NaCl","lo1":0.1389,"lo2":0.0988,"top":0.1405,"lab":"**"},
{"g":"GhRR26","t":"9 h","a":"ZhongJ0102-CK","b":"ZhongJ0102-NaCl","lo1":0.1206,"lo2":0.0619,"top":0.1224,"lab":"**"},
{"g":"GhRR26","t":"9 h","a":"TM-1-CK","b":"TM-1-NaCl","lo1":0.0684,"lo2":0.0867,"top":0.0886,"lab":"**"},
{"g":"GhRR26","t":"12 h","a":"Zhong9807-CK","b":"Zhong9807-NaCl","lo1":0.0514,"lo2":0.1006,"top":0.1023,"lab":"**"},
{"g":"GhRR27","t":"1 h","a":"ZhongJ0102-CK","b":"ZhongJ0102-NaCl","lo1":0.0145,"lo2":0.0173,"top":0.0183,"lab":"**"},
{"g":"GhRR27","t":"1 h","a":"Zhong9807-CK","b":"Zhong9807-NaCl","lo1":0.0113,"lo2":0.0173,"top":0.0183,"lab":"**"},
{"g":"GhRR27","t":"1 h","a":"TM-1-CK","b":"TM-1-NaCl","lo1":0.0115,"lo2":0.0068,"top":0.0137,"lab":"**"},
{"g":"GhRR27","t":"3 h","a":"Zhong9807-CK","b":"Zhong9807-NaCl","lo1":0.0085,"lo2":0.0153,"top":0.0163,"lab":"**"},
{"g":"GhRR27","t":"3 h","a":"TM-1-CK","b":"TM-1-NaCl","lo1":0.0161,"lo2":0.0226,"top":0.0236,"lab":"**"},
{"g":"GhRR27","t":"6 h","a":"ZhongJ0102-CK","b":"ZhongJ0102-NaCl","lo1":0.0099,"lo2":0.0199,"top":0.0209,"lab":"**"},
{"g":"GhRR27","t":"6 h","a":"Zhong9807-CK","b":"Zhong9807-NaCl","lo1":0.0113,"lo2":0.0151,"top":0.0161,"lab":"**"},
{"g":"GhRR27","t":"6 h","a":"TM-1-CK","b":"TM-1-NaCl","lo1":0.0115,"lo2":0.0238,"top":0.0247,"lab":"**"},
{"g":"GhRR27","t":"9 h","a":"ZhongJ0102-CK","b":"ZhongJ0102-NaCl","lo1":0.0145,"lo2":0.0416,"top":0.0427,"lab":"**"},
{"g":"GhRR27","t":"9 h","a":"Zhong9807-CK","b":"Zhong9807-NaCl","lo1":0.0093,"lo2":0.0377,"top":0.0389,"lab":""},
{"g":"GhRR27","t":"9 h","a":"TM-1-CK","b":"TM-1-NaCl","lo1":0.0008,"lo2":0.0731,"top":0.0741,"lab":"**"},
{"g":"GhRR27","t":"12 h","a":"ZhongJ0102-CK","b":"ZhongJ0102-NaCl","lo1":0.0105,"lo2":0.0234,"top":0.0244,"lab":"**"},
{"g":"GhRR27","t":"12 h","a":"Zhong9807-CK","b":"Zhong9807-NaCl","lo1":0.0101,"lo2":0.0296,"top":0.0306,"lab":"**"},
{"g":"GhRR27","t":"12 h","a":"TM-1-CK","b":"TM-1-NaCl","lo1":0.0101,"lo2":0.0305,"top":0.0314,"lab":"**"},
{"g":"GhRR28","t":"1 h","a":"ZhongJ0102-CK","b":"ZhongJ0102-NaCl","lo1":0.037,"lo2":0.0479,"top":0.0487,"lab":"**"},
{"g":"GhRR28","t":"3 h","a":"ZhongJ0102-CK","b":"ZhongJ0102-NaCl","lo1":0.0223,"lo2":0.0184,"top":0.023,"lab":"**"},
{"g":"GhRR28","t":"3 h","a":"Zhong9807-CK","b":"Zhong9807-NaCl","lo1":0.0163,"lo2":0.0208,"top":0.0217,"lab":"**"},
{"g":"GhRR28","t":"6 h","a":"ZhongJ0102-CK","b":"ZhongJ0102-NaCl","lo1":0.0277,"lo2":0.0388,"top":0.0395,"lab":"**"},
{"g":"GhRR28","t":"6 h","a":"Zhong9807-CK","b":"Zhong9807-NaCl","lo1":0.0253,"lo2":0.0298,"top":0.0306,"lab":"**"},
{"g":"GhRR28","t":"9 h","a":"Zhong9807-CK","b":"Zhong9807-NaCl","lo1":0.0314,"lo2":0.0491,"top":0.0499,"lab":"**"},
{"g":"GhRR28","t":"9 h","a":"TM-1-CK","b":"TM-1-NaCl","lo1":0.0232,"lo2":0.0412,"top":0.0419,"lab":"**"},
{"g":"GhRR28","t":"12 h","a":"ZhongJ0102-CK","b":"ZhongJ0102-NaCl","lo1":0.0277,"lo2":0.0445,"top":0.0452,"lab":"**"},
{"g":"GhRR28","t":"12 h","a":"Zhong9807-CK","b":"Zhong9807-NaCl","lo1":0.0229,"lo2":0.0558,"top":0.0566,"lab":"**"},
{"g":"GhRR28","t":"12 h","a":"TM-1-CK","b":"TM-1-NaCl","lo1":0.0203,"lo2":0.0439,"top":0.0446,"lab":"**"},
{"g":"GhRR34","t":"1 h","a":"TM-1-CK","b":"TM-1-NaCl","lo1":0.0018,"lo2":0.0103,"top":0.0121,"lab":"**"},
{"g":"GhRR34","t":"6 h","a":"ZhongJ0102-CK","b":"ZhongJ0102-NaCl","lo1":0.0088,"lo2":0.0402,"top":0.042,"lab":"**"},
{"g":"GhRR34","t":"6 h","a":"Zhong9807-CK","b":"Zhong9807-NaCl","lo1":0.0249,"lo2":0.0302,"top":0.0318,"lab":"**"},
{"g":"GhRR34","t":"9 h","a":"ZhongJ0102-CK","b":"ZhongJ0102-NaCl","lo1":0.0487,"lo2":0.0544,"top":0.0562,"lab":"**"},
{"g":"GhRR34","t":"9 h","a":"Zhong9807-CK","b":"Zhong9807-NaCl","lo1":0.0163,"lo2":0.0844,"top":0.0862,"lab":"**"},
{"g":"GhRR34","t":"9 h","a":"TM-1-CK","b":"TM-1-NaCl","lo1":0.0287,"lo2":0.0968,"top":0.0986,"lab":"**"},
{"g":"GhRR34","t":"12 h","a":"ZhongJ0102-CK","b":"ZhongJ0102-NaCl","lo1":0.0343,"lo2":0.039,"top":0.0408,"lab":"**"},
{"g":"GhRR34","t":"12 h","a":"Zhong9807-CK","b":"Zhong9807-NaCl","lo1":0.0426,"lo2":0.0287,"top":0.0466,"lab":"**"},
{"g":"GhRR34","t":"12 h","a":"TM-1-CK","b":"TM-1-NaCl","lo1":0.0091,"lo2":0.028,"top":0.0298,"lab":"**"},
{"g":"GhRR41","t":"1 h","a":"TM-1-CK","b":"TM-1-NaCl","lo1":0.0076,"lo2":0.0216,"top":0.0221,"lab":"**"},
{"g":"GhRR41","t":"3 h","a":"Zhong9807-CK","b":"Zhong9807-NaCl","lo1":0.0049,"lo2":0.0145,"top":0.015,"lab":"**"},
{"g":"GhRR41","t":"6 h","a":"ZhongJ0102-CK","b":"ZhongJ0102-NaCl","lo1":0.0088,"lo2":0.0174,"top":0.0179,"lab":"**"},
{"g":"GhRR41","t":"6 h","a":"Zhong9807-CK","b":"Zhong9807-NaCl","lo1":0.021,"lo2":0.0241,"top":0.0254,"lab":"**"},
{"g":"GhRR41","t":"9 h","a":"Zhong9807-CK","b":"Zhong9807-NaCl","lo1":0.01,"lo2":0.036,"top":0.0365,"lab":"**"},
{"g":"GhRR41","t":"9 h","a":"TM-1-CK","b":"TM-1-NaCl","lo1":0.0155,"lo2":0.0243,"top":0.0248,"lab":"**"},
{"g":"GhRR41","t":"12 h","a":"ZhongJ0102-CK","b":"ZhongJ0102-NaCl","lo1":0.0095,"lo2":0.0119,"top":0.0124,"lab":"**"},
{"g":"GhRR41","t":"12 h","a":"Zhong9807-CK","b":"Zhong9807-NaCl","lo1":0.0045,"lo2":0.0108,"top":0.0112,"lab":"**"},
{"g":"GhRR86","t":"1 h","a":"Zhong9807-CK","b":"Zhong9807-NaCl","lo1":0.0032,"lo2":0.0207,"top":0.0213,"lab":"**"},
{"g":"GhRR86","t":"3 h","a":"Zhong9807-CK","b":"Zhong9807-NaCl","lo1":0.004,"lo2":0.0079,"top":0.0086,"lab":"**"},
{"g":"GhRR86","t":"3 h","a":"TM-1-CK","b":"TM-1-NaCl","lo1":0.0056,"lo2":0.0086,"top":0.0092,"lab":"**"},
{"g":"GhRR86","t":"6 h","a":"TM-1-CK","b":"TM-1-NaCl","lo1":0.0127,"lo2":0.0094,"top":0.014,"lab":"**"},
{"g":"GhRR86","t":"9 h","a":"Zhong9807-CK","b":"Zhong9807-NaCl","lo1":0.0112,"lo2":0.0152,"top":0.0159,"lab":""},
{"g":"GhRR86","t":"9 h","a":"TM-1-CK","b":"TM-1-NaCl","lo1":0.0228,"lo2":0.031,"top":0.0316,"lab":"**"},
{"g":"GhRR86","t":"12 h","a":"TM-1-CK","b":"TM-1-NaCl","lo1":0.0195,"lo2":0.0454,"top":0.046,"lab":"**"}
]
},
"concat":[
{"title":"GhRR1","width":380,"height":331,
"encoding":{"x":{"field":"t","type":"nominal","scale":{"domain":["0 h","1 h","3 h","6 h","9 h","12 h"],"paddingInner":0.09,"paddingOuter":0.05},"axis":{"title":null,"labelFont":"Liberation Serif","labelFontSize":22}}},
"layer":[
{"data":{"name":"bars"},"transform":[{"filter":{"field":"g","equal":"GhRR1"}},{"filter":{"field":"s","oneOf":["ZhongJ0102-CK","ZhongJ0102-NaCl","Zhong9807-CK"]}}],"mark":"bar",
"encoding":{"xOffset":{"field":"s","type":"nominal","scale":{"domain":["ZhongJ0102-CK","ZhongJ0102-NaCl","Zhong9807-CK","Zhong9807-NaCl","TM-1-CK","TM-1-NaCl"],"paddingInner":0.35,"paddingOuter":0.175}},
"y":{"field":"v","type":"quantitative","scale":{"domain":[0,0.08],"nice":false},"axis":{"values":[0,0.02,0.04,0.06,0.08],"format":".2f","title":"Relative expression\u00a0 level","labelFont":"Liberation Serif","labelFontSize":22}},
"fill":{"field":"s","type":"nominal","scale":{"domain":["ZhongJ0102-CK","ZhongJ0102-NaCl","Zhong9807-CK"],"range":["#00BE00","#005C00","#838383"]},"legend":{"orient":"none","legendX":-104,"legendY":2421,"direction":"horizontal","title":null,"symbolType":"M-1,-0.4H1V0.4H-1Z","symbolSize":1156,"symbolStrokeWidth":0,"labelFont":"Liberation Serif","labelFontSize":23,"labelColor":"#000","labelOffset":16,"columnPadding":15,"labelLimit":400}}}},
{"data":{"name":"bars"},"transform":[{"filter":{"field":"g","equal":"GhRR1"}},{"filter":{"field":"s","oneOf":["Zhong9807-NaCl","TM-1-CK","TM-1-NaCl"]}}],"mark":"bar",
"encoding":{"xOffset":{"field":"s","type":"nominal"},"y":{"field":"v","type":"quantitative"},
"color":{"field":"s","type":"nominal","scale":{"domain":["Zhong9807-NaCl","TM-1-CK","TM-1-NaCl"],"range":["#333333","#FA4444","#A00000"]},"legend":{"orient":"none","legendX":703,"legendY":2421,"direction":"horizontal","title":null,"symbolType":"M-1,-0.4H1V0.4H-1Z","symbolSize":1156,"symbolStrokeWidth":0,"labelFont":"Liberation Serif","labelFontSize":23,"labelColor":"#000","labelOffset":16,"columnPadding":15,"labelLimit":400}}}},
{"data":{"name":"bars"},"transform":[{"filter":{"field":"g","equal":"GhRR1"}}],"mark":{"type":"rule","strokeWidth":1.5},
"encoding":{"xOffset":{"field":"s","type":"nominal"},"y":{"field":"v","type":"quantitative"},"y2":{"field":"hi"},"stroke":{"field":"s","type":"nominal","scale":{"domain":["ZhongJ0102-CK","ZhongJ0102-NaCl","Zhong9807-CK","Zhong9807-NaCl","TM-1-CK","TM-1-NaCl"],"range":["#00BE00","#005C00","#838383","#333333","#FA4444","#A00000"]},"legend":null}}},
{"data":{"name":"bars"},"transform":[{"filter":{"field":"g","equal":"GhRR1"}}],"mark":{"type":"point","shape":"M-1,0H1","size":25,"filled":false,"strokeWidth":1.5,"opacity":1},
"encoding":{"xOffset":{"field":"s","type":"nominal"},"y":{"field":"hi","type":"quantitative"},"stroke":{"field":"s","type":"nominal","legend":null}}},
{"data":{"name":"brk"},"transform":[{"filter":{"field":"g","equal":"GhRR1"}}],"mark":{"type":"rule","strokeWidth":1.5,"color":"#1a1a1a"},
"encoding":{"xOffset":{"field":"a","type":"nominal"},"y":{"field":"lo1","type":"quantitative"},"y2":{"field":"top"}}},
{"data":{"name":"brk"},"transform":[{"filter":{"field":"g","equal":"GhRR1"}}],"mark":{"type":"rule","strokeWidth":1.5,"color":"#1a1a1a"},
"encoding":{"xOffset":{"field":"b","type":"nominal"},"y":{"field":"lo2","type":"quantitative"},"y2":{"field":"top"}}},
{"data":{"name":"brk"},"transform":[{"filter":{"field":"g","equal":"GhRR1"}},{"fold":["a","b"],"as":["k","s"]}],"mark":{"type":"line","strokeWidth":1.5,"color":"#1a1a1a"},
"encoding":{"xOffset":{"field":"s","type":"nominal"},"y":{"field":"top","type":"quantitative"},"detail":[{"field":"t"},{"field":"a"}]}},
{"data":{"name":"brk"},"transform":[{"filter":{"field":"g","equal":"GhRR1"}}],"mark":{"type":"text","dx":4.8,"dy":-13,"baseline":"alphabetic","font":"Liberation Serif","fontSize":16,"color":"#333"},
"encoding":{"xOffset":{"field":"a","type":"nominal"},"y":{"field":"top","type":"quantitative"},"text":{"field":"lab"}}}
]},
{"title":"GhRR4","width":380,"height":331,
"encoding":{"x":{"field":"t","type":"nominal","scale":{"domain":["0 h","1 h","3 h","6 h","9 h","12 h"],"paddingInner":0.09,"paddingOuter":0.05},"axis":{"title":null,"labelFont":"Liberation Serif","labelFontSize":22}}},
"layer":[
{"data":{"name":"bars"},"transform":[{"filter":{"field":"g","equal":"GhRR4"}},{"filter":{"field":"s","oneOf":["ZhongJ0102-CK","ZhongJ0102-NaCl","Zhong9807-CK"]}}],"mark":"bar",
"encoding":{"xOffset":{"field":"s","type":"nominal","scale":{"domain":["ZhongJ0102-CK","ZhongJ0102-NaCl","Zhong9807-CK","Zhong9807-NaCl","TM-1-CK","TM-1-NaCl"],"paddingInner":0.35,"paddingOuter":0.175}},
"y":{"field":"v","type":"quantitative","scale":{"domain":[0,0.08],"nice":false},"axis":{"values":[0,0.02,0.04,0.06,0.08],"format":".2f","title":"Relative expression\u00a0 level","labelFont":"Liberation Serif","labelFontSize":22}},
"fill":{"field":"s","type":"nominal","scale":{"domain":["ZhongJ0102-CK","ZhongJ0102-NaCl","Zhong9807-CK"],"range":["#00BE00","#005C00","#838383"]},"legend":{"orient":"none","legendX":-104,"legendY":2421,"direction":"horizontal","title":null,"symbolType":"M-1,-0.4H1V0.4H-1Z","symbolSize":1156,"symbolStrokeWidth":0,"labelFont":"Liberation Serif","labelFontSize":23,"labelColor":"#000","labelOffset":16,"columnPadding":15,"labelLimit":400}}}},
{"data":{"name":"bars"},"transform":[{"filter":{"field":"g","equal":"GhRR4"}},{"filter":{"field":"s","oneOf":["Zhong9807-NaCl","TM-1-CK","TM-1-NaCl"]}}],"mark":"bar",
"encoding":{"xOffset":{"field":"s","type":"nominal"},"y":{"field":"v","type":"quantitative"},
"color":{"field":"s","type":"nominal","scale":{"domain":["Zhong9807-NaCl","TM-1-CK","TM-1-NaCl"],"range":["#333333","#FA4444","#A00000"]},"legend":{"orient":"none","legendX":703,"legendY":2421,"direction":"horizontal","title":null,"symbolType":"M-1,-0.4H1V0.4H-1Z","symbolSize":1156,"symbolStrokeWidth":0,"labelFont":"Liberation Serif","labelFontSize":23,"labelColor":"#000","labelOffset":16,"columnPadding":15,"labelLimit":400}}}},
{"data":{"name":"bars"},"transform":[{"filter":{"field":"g","equal":"GhRR4"}}],"mark":{"type":"rule","strokeWidth":1.5},
"encoding":{"xOffset":{"field":"s","type":"nominal"},"y":{"field":"v","type":"quantitative"},"y2":{"field":"hi"},"stroke":{"field":"s","type":"nominal","legend":null}}},
{"data":{"name":"bars"},"transform":[{"filter":{"field":"g","equal":"GhRR4"}}],"mark":{"type":"point","shape":"M-1,0H1","size":25,"filled":false,"strokeWidth":1.5,"opacity":1},
"encoding":{"xOffset":{"field":"s","type":"nominal"},"y":{"field":"hi","type":"quantitative"},"stroke":{"field":"s","type":"nominal","legend":null}}},
{"data":{"name":"brk"},"transform":[{"filter":{"field":"g","equal":"GhRR4"}}],"mark":{"type":"rule","strokeWidth":1.5,"color":"#1a1a1a"},
"encoding":{"xOffset":{"field":"a","type":"nominal"},"y":{"field":"lo1","type":"quantitative"},"y2":{"field":"top"}}},
{"data":{"name":"brk"},"transform":[{"filter":{"field":"g","equal":"GhRR4"}}],"mark":{"type":"rule","strokeWidth":1.5,"color":"#1a1a1a"},
"encoding":{"xOffset":{"field":"b","type":"nominal"},"y":{"field":"lo2","type":"quantitative"},"y2":{"field":"top"}}},
{"data":{"name":"brk"},"transform":[{"filter":{"field":"g","equal":"GhRR4"}},{"fold":["a","b"],"as":["k","s"]}],"mark":{"type":"line","strokeWidth":1.5,"color":"#1a1a1a"},
"encoding":{"xOffset":{"field":"s","type":"nominal"},"y":{"field":"top","type":"quantitative"},"detail":[{"field":"t"},{"field":"a"}]}},
{"data":{"name":"brk"},"transform":[{"filter":{"field":"g","equal":"GhRR4"}}],"mark":{"type":"text","dx":4.8,"dy":-13,"baseline":"alphabetic","font":"Liberation Serif","fontSize":16,"color":"#333"},
"encoding":{"xOffset":{"field":"a","type":"nominal"},"y":{"field":"top","type":"quantitative"},"text":{"field":"lab"}}}
]},
{"title":"GhRR7","width":380,"height":331,
"encoding":{"x":{"field":"t","type":"nominal","scale":{"domain":["0 h","1 h","3 h","6 h","9 h","12 h"],"paddingInner":0.09,"paddingOuter":0.05},"axis":{"title":null}}},
"layer":[
{"data":{"name":"bars"},"transform":[{"filter":{"field":"g","equal":"GhRR7"}},{"filter":{"field":"s","oneOf":["ZhongJ0102-CK","ZhongJ0102-NaCl","Zhong9807-CK"]}}],"mark":"bar",
"encoding":{"xOffset":{"field":"s","type":"nominal","scale":{"domain":["ZhongJ0102-CK","ZhongJ0102-NaCl","Zhong9807-CK","Zhong9807-NaCl","TM-1-CK","TM-1-NaCl"],"paddingInner":0.35,"paddingOuter":0.175}},
"y":{"field":"v","type":"quantitative","scale":{"domain":[0,0.05],"nice":false},"axis":{"values":[0,0.01,0.02,0.03,0.04,0.05],"format":".2f","title":"Relative expression\u00a0 level"}},
"fill":{"field":"s","type":"nominal","scale":{"domain":["ZhongJ0102-CK","ZhongJ0102-NaCl","Zhong9807-CK"],"range":["#00BE00","#005C00","#838383"]},"legend":{"orient":"none","legendX":-104,"legendY":2421,"direction":"horizontal","title":null,"symbolType":"M-1,-0.4H1V0.4H-1Z","symbolSize":1156,"symbolStrokeWidth":0,"labelFont":"Liberation Serif","labelFontSize":23,"labelColor":"#000","labelOffset":16,"columnPadding":15,"labelLimit":400}}}},
{"data":{"name":"bars"},"transform":[{"filter":{"field":"g","equal":"GhRR7"}},{"filter":{"field":"s","oneOf":["Zhong9807-NaCl","TM-1-CK","TM-1-NaCl"]}}],"mark":"bar",
"encoding":{"xOffset":{"field":"s","type":"nominal"},"y":{"field":"v","type":"quantitative"},
"color":{"field":"s","type":"nominal","scale":{"domain":["Zhong9807-NaCl","TM-1-CK","TM-1-NaCl"],"range":["#333333","#FA4444","#A00000"]},"legend":{"orient":"none","legendX":703,"legendY":2421,"direction":"horizontal","title":null,"symbolType":"M-1,-0.4H1V0.4H-1Z","symbolSize":1156,"symbolStrokeWidth":0,"labelFont":"Liberation Serif","labelFontSize":23,"labelColor":"#000","labelOffset":16,"columnPadding":15,"labelLimit":400}}}},
{"data":{"name":"bars"},"transform":[{"filter":{"field":"g","equal":"GhRR7"}}],"mark":{"type":"rule","strokeWidth":1.5},
"encoding":{"xOffset":{"field":"s","type":"nominal"},"y":{"field":"v","type":"quantitative"},"y2":{"field":"hi"},"stroke":{"field":"s","type":"nominal","legend":null}}},
{"data":{"name":"bars"},"transform":[{"filter":{"field":"g","equal":"GhRR7"}}],"mark":{"type":"point","shape":"M-1,0H1","size":25,"filled":false,"strokeWidth":1.5,"opacity":1},
"encoding":{"xOffset":{"field":"s","type":"nominal"},"y":{"field":"hi","type":"quantitative"},"stroke":{"field":"s","type":"nominal","legend":null}}},
{"data":{"name":"brk"},"transform":[{"filter":{"field":"g","equal":"GhRR7"}}],"mark":{"type":"rule","strokeWidth":1.5,"color":"#1a1a1a"},
"encoding":{"xOffset":{"field":"a","type":"nominal"},"y":{"field":"lo1","type":"quantitative"},"y2":{"field":"top"}}},
{"data":{"name":"brk"},"transform":[{"filter":{"field":"g","equal":"GhRR7"}}],"mark":{"type":"rule","strokeWidth":1.5,"color":"#1a1a1a"},
"encoding":{"xOffset":{"field":"b","type":"nominal"},"y":{"field":"lo2","type":"quantitative"},"y2":{"field":"top"}}},
{"data":{"name":"brk"},"transform":[{"filter":{"field":"g","equal":"GhRR7"}},{"fold":["a","b"],"as":["k","s"]}],"mark":{"type":"line","strokeWidth":1.5,"color":"#1a1a1a"},
"encoding":{"xOffset":{"field":"s","type":"nominal"},"y":{"field":"top","type":"quantitative"},"detail":[{"field":"t"},{"field":"a"}]}},
{"data":{"name":"brk"},"transform":[{"filter":{"field":"g","equal":"GhRR7"}}],"mark":{"type":"text","dx":4.8,"dy":-13,"baseline":"alphabetic","font":"Liberation Serif","fontSize":16,"color":"#333"},
"encoding":{"xOffset":{"field":"a","type":"nominal"},"y":{"field":"top","type":"quantitative"},"text":{"field":"lab"}}}
]},
{"title":"GhRR17","width":380,"height":331,
"encoding":{"x":{"field":"t","type":"nominal","scale":{"domain":["0 h","1 h","3 h","6 h","9 h","12 h"],"paddingInner":0.09,"paddingOuter":0.05},"axis":{"title":null}}},
"layer":[
{"data":{"name":"bars"},"transform":[{"filter":{"field":"g","equal":"GhRR17"}},{"filter":{"field":"s","oneOf":["ZhongJ0102-CK","ZhongJ0102-NaCl","Zhong9807-CK"]}}],"mark":"bar",
"encoding":{"xOffset":{"field":"s","type":"nominal","scale":{"domain":["ZhongJ0102-CK","ZhongJ0102-NaCl","Zhong9807-CK","Zhong9807-NaCl","TM-1-CK","TM-1-NaCl"],"paddingInner":0.35,"paddingOuter":0.175}},
"y":{"field":"v","type":"quantitative","scale":{"domain":[0,0.015],"nice":false},"axis":{"values":[0,0.005,0.01,0.015],"format":".3f","title":"Relative expression\u00a0 level"}},
"fill":{"field":"s","type":"nominal","scale":{"domain":["ZhongJ0102-CK","ZhongJ0102-NaCl","Zhong9807-CK"],"range":["#00BE00","#005C00","#838383"]},"legend":{"orient":"none","legendX":-104,"legendY":2421,"direction":"horizontal","title":null,"symbolType":"M-1,-0.4H1V0.4H-1Z","symbolSize":1156,"symbolStrokeWidth":0,"labelFont":"Liberation Serif","labelFontSize":23,"labelColor":"#000","labelOffset":16,"columnPadding":15,"labelLimit":400}}}},
{"data":{"name":"bars"},"transform":[{"filter":{"field":"g","equal":"GhRR17"}},{"filter":{"field":"s","oneOf":["Zhong9807-NaCl","TM-1-CK","TM-1-NaCl"]}}],"mark":"bar",
"encoding":{"xOffset":{"field":"s","type":"nominal"},"y":{"field":"v","type":"quantitative"},
"color":{"field":"s","type":"nominal","scale":{"domain":["Zhong9807-NaCl","TM-1-CK","TM-1-NaCl"],"range":["#333333","#FA4444","#A00000"]},"legend":{"orient":"none","legendX":703,"legendY":2421,"direction":"horizontal","title":null,"symbolType":"M-1,-0.4H1V0.4H-1Z","symbolSize":1156,"symbolStrokeWidth":0,"labelFont":"Liberation Serif","labelFontSize":23,"labelColor":"#000","labelOffset":16,"columnPadding":15,"labelLimit":400}}}},
{"data":{"name":"bars"},"transform":[{"filter":{"field":"g","equal":"GhRR17"}}],"mark":{"type":"rule","strokeWidth":1.5},
"encoding":{"xOffset":{"field":"s","type":"nominal"},"y":{"field":"v","type":"quantitative"},"y2":{"field":"hi"},"stroke":{"field":"s","type":"nominal","legend":null}}},
{"data":{"name":"bars"},"transform":[{"filter":{"field":"g","equal":"GhRR17"}}],"mark":{"type":"point","shape":"M-1,0H1","size":25,"filled":false,"strokeWidth":1.5,"opacity":1},
"encoding":{"xOffset":{"field":"s","type":"nominal"},"y":{"field":"hi","type":"quantitative"},"stroke":{"field":"s","type":"nominal","legend":null}}},
{"data":{"name":"brk"},"transform":[{"filter":{"field":"g","equal":"GhRR17"}}],"mark":{"type":"rule","strokeWidth":1.5,"color":"#1a1a1a"},
"encoding":{"xOffset":{"field":"a","type":"nominal"},"y":{"field":"lo1","type":"quantitative"},"y2":{"field":"top"}}},
{"data":{"name":"brk"},"transform":[{"filter":{"field":"g","equal":"GhRR17"}}],"mark":{"type":"rule","strokeWidth":1.5,"color":"#1a1a1a"},
"encoding":{"xOffset":{"field":"b","type":"nominal"},"y":{"field":"lo2","type":"quantitative"},"y2":{"field":"top"}}},
{"data":{"name":"brk"},"transform":[{"filter":{"field":"g","equal":"GhRR17"}},{"fold":["a","b"],"as":["k","s"]}],"mark":{"type":"line","strokeWidth":1.5,"color":"#1a1a1a"},
"encoding":{"xOffset":{"field":"s","type":"nominal"},"y":{"field":"top","type":"quantitative"},"detail":[{"field":"t"},{"field":"a"}]}},
{"data":{"name":"brk"},"transform":[{"filter":{"field":"g","equal":"GhRR17"}}],"mark":{"type":"text","dx":4.8,"dy":-13,"baseline":"alphabetic","font":"Liberation Serif","fontSize":16,"color":"#333"},
"encoding":{"xOffset":{"field":"a","type":"nominal"},"y":{"field":"top","type":"quantitative"},"text":{"field":"lab"}}}
]},
{"title":"GhRR26","width":380,"height":331,
"encoding":{"x":{"field":"t","type":"nominal","scale":{"domain":["0 h","1 h","3 h","6 h","9 h","12 h"],"paddingInner":0.09,"paddingOuter":0.05},"axis":{"title":null}}},
"layer":[
{"data":{"name":"bars"},"transform":[{"filter":{"field":"g","equal":"GhRR26"}},{"filter":{"field":"s","oneOf":["ZhongJ0102-CK","ZhongJ0102-NaCl","Zhong9807-CK"]}}],"mark":"bar",
"encoding":{"xOffset":{"field":"s","type":"nominal","scale":{"domain":["ZhongJ0102-CK","ZhongJ0102-NaCl","Zhong9807-CK","Zhong9807-NaCl","TM-1-CK","TM-1-NaCl"],"paddingInner":0.35,"paddingOuter":0.175}},
"y":{"field":"v","type":"quantitative","scale":{"domain":[0,0.15],"nice":false},"axis":{"values":[0,0.05,0.1,0.15],"format":".2f","title":"Relative expression\u00a0 level"}},
"fill":{"field":"s","type":"nominal","scale":{"domain":["ZhongJ0102-CK","ZhongJ0102-NaCl","Zhong9807-CK"],"range":["#00BE00","#005C00","#838383"]},"legend":{"orient":"none","legendX":-104,"legendY":2421,"direction":"horizontal","title":null,"symbolType":"M-1,-0.4H1V0.4H-1Z","symbolSize":1156,"symbolStrokeWidth":0,"labelFont":"Liberation Serif","labelFontSize":23,"labelColor":"#000","labelOffset":16,"columnPadding":15,"labelLimit":400}}}},
{"data":{"name":"bars"},"transform":[{"filter":{"field":"g","equal":"GhRR26"}},{"filter":{"field":"s","oneOf":["Zhong9807-NaCl","TM-1-CK","TM-1-NaCl"]}}],"mark":"bar",
"encoding":{"xOffset":{"field":"s","type":"nominal"},"y":{"field":"v","type":"quantitative"},
"color":{"field":"s","type":"nominal","scale":{"domain":["Zhong9807-NaCl","TM-1-CK","TM-1-NaCl"],"range":["#333333","#FA4444","#A00000"]},"legend":{"orient":"none","legendX":703,"legendY":2421,"direction":"horizontal","title":null,"symbolType":"M-1,-0.4H1V0.4H-1Z","symbolSize":1156,"symbolStrokeWidth":0,"labelFont":"Liberation Serif","labelFontSize":23,"labelColor":"#000","labelOffset":16,"columnPadding":15,"labelLimit":400}}}},
{"data":{"name":"bars"},"transform":[{"filter":{"field":"g","equal":"GhRR26"}}],"mark":{"type":"rule","strokeWidth":1.5},
"encoding":{"xOffset":{"field":"s","type":"nominal"},"y":{"field":"v","type":"quantitative"},"y2":{"field":"hi"},"stroke":{"field":"s","type":"nominal","legend":null}}},
{"data":{"name":"bars"},"transform":[{"filter":{"field":"g","equal":"GhRR26"}}],"mark":{"type":"point","shape":"M-1,0H1","size":25,"filled":false,"strokeWidth":1.5,"opacity":1},
"encoding":{"xOffset":{"field":"s","type":"nominal"},"y":{"field":"hi","type":"quantitative"},"stroke":{"field":"s","type":"nominal","legend":null}}},
{"data":{"name":"brk"},"transform":[{"filter":{"field":"g","equal":"GhRR26"}}],"mark":{"type":"rule","strokeWidth":1.5,"color":"#1a1a1a"},
"encoding":{"xOffset":{"field":"a","type":"nominal"},"y":{"field":"lo1","type":"quantitative"},"y2":{"field":"top"}}},
{"data":{"name":"brk"},"transform":[{"filter":{"field":"g","equal":"GhRR26"}}],"mark":{"type":"rule","strokeWidth":1.5,"color":"#1a1a1a"},
"encoding":{"xOffset":{"field":"b","type":"nominal"},"y":{"field":"lo2","type":"quantitative"},"y2":{"field":"top"}}},
{"data":{"name":"brk"},"transform":[{"filter":{"field":"g","equal":"GhRR26"}},{"fold":["a","b"],"as":["k","s"]}],"mark":{"type":"line","strokeWidth":1.5,"color":"#1a1a1a"},
"encoding":{"xOffset":{"field":"s","type":"nominal"},"y":{"field":"top","type":"quantitative"},"detail":[{"field":"t"},{"field":"a"}]}},
{"data":{"name":"brk"},"transform":[{"filter":{"field":"g","equal":"GhRR26"}}],"mark":{"type":"text","dx":4.8,"dy":-13,"baseline":"alphabetic","font":"Liberation Serif","fontSize":16,"color":"#333"},
"encoding":{"xOffset":{"field":"a","type":"nominal"},"y":{"field":"top","type":"quantitative"},"text":{"field":"lab"}}}
]},
{"title":"GhRR27","width":380,"height":331,
"encoding":{"x":{"field":"t","type":"nominal","scale":{"domain":["0 h","1 h","3 h","6 h","9 h","12 h"],"paddingInner":0.09,"paddingOuter":0.05},"axis":{"title":null}}},
"layer":[
{"data":{"name":"bars"},"transform":[{"filter":{"field":"g","equal":"GhRR27"}},{"filter":{"field":"s","oneOf":["ZhongJ0102-CK","ZhongJ0102-NaCl","Zhong9807-CK"]}}],"mark":"bar",
"encoding":{"xOffset":{"field":"s","type":"nominal","scale":{"domain":["ZhongJ0102-CK","ZhongJ0102-NaCl","Zhong9807-CK","Zhong9807-NaCl","TM-1-CK","TM-1-NaCl"],"paddingInner":0.35,"paddingOuter":0.175}},
"y":{"field":"v","type":"quantitative","scale":{"domain":[0,0.08],"nice":false},"axis":{"values":[0,0.02,0.04,0.06,0.08],"format":".2f","title":"Relative expression\u00a0 level"}},
"fill":{"field":"s","type":"nominal","scale":{"domain":["ZhongJ0102-CK","ZhongJ0102-NaCl","Zhong9807-CK"],"range":["#00BE00","#005C00","#838383"]},"legend":{"orient":"none","legendX":-104,"legendY":2421,"direction":"horizontal","title":null,"symbolType":"M-1,-0.4H1V0.4H-1Z","symbolSize":1156,"symbolStrokeWidth":0,"labelFont":"Liberation Serif","labelFontSize":23,"labelColor":"#000","labelOffset":16,"columnPadding":15,"labelLimit":400}}}},
{"data":{"name":"bars"},"transform":[{"filter":{"field":"g","equal":"GhRR27"}},{"filter":{"field":"s","oneOf":["Zhong9807-NaCl","TM-1-CK","TM-1-NaCl"]}}],"mark":"bar",
"encoding":{"xOffset":{"field":"s","type":"nominal"},"y":{"field":"v","type":"quantitative"},
"color":{"field":"s","type":"nominal","scale":{"domain":["Zhong9807-NaCl","TM-1-CK","TM-1-NaCl"],"range":["#333333","#FA4444","#A00000"]},"legend":{"orient":"none","legendX":703,"legendY":2421,"direction":"horizontal","title":null,"symbolType":"M-1,-0.4H1V0.4H-1Z","symbolSize":1156,"symbolStrokeWidth":0,"labelFont":"Liberation Serif","labelFontSize":23,"labelColor":"#000","labelOffset":16,"columnPadding":15,"labelLimit":400}}}},
{"data":{"name":"bars"},"transform":[{"filter":{"field":"g","equal":"GhRR27"}}],"mark":{"type":"rule","strokeWidth":1.5},
"encoding":{"xOffset":{"field":"s","type":"nominal"},"y":{"field":"v","type":"quantitative"},"y2":{"field":"hi"},"stroke":{"field":"s","type":"nominal","legend":null}}},
{"data":{"name":"bars"},"transform":[{"filter":{"field":"g","equal":"GhRR27"}}],"mark":{"type":"point","shape":"M-1,0H1","size":25,"filled":false,"strokeWidth":1.5,"opacity":1},
"encoding":{"xOffset":{"field":"s","type":"nominal"},"y":{"field":"hi","type":"quantitative"},"stroke":{"field":"s","type":"nominal","legend":null}}},
{"data":{"name":"brk"},"transform":[{"filter":{"field":"g","equal":"GhRR27"}}],"mark":{"type":"rule","strokeWidth":1.5,"color":"#1a1a1a"},
"encoding":{"xOffset":{"field":"a","type":"nominal"},"y":{"field":"lo1","type":"quantitative"},"y2":{"field":"top"}}},
{"data":{"name":"brk"},"transform":[{"filter":{"field":"g","equal":"GhRR27"}}],"mark":{"type":"rule","strokeWidth":1.5,"color":"#1a1a1a"},
"encoding":{"xOffset":{"field":"b","type":"nominal"},"y":{"field":"lo2","type":"quantitative"},"y2":{"field":"top"}}},
{"data":{"name":"brk"},"transform":[{"filter":{"field":"g","equal":"GhRR27"}},{"fold":["a","b"],"as":["k","s"]}],"mark":{"type":"line","strokeWidth":1.5,"color":"#1a1a1a"},
"encoding":{"xOffset":{"field":"s","type":"nominal"},"y":{"field":"top","type":"quantitative"},"detail":[{"field":"t"},{"field":"a"}]}},
{"data":{"name":"brk"},"transform":[{"filter":{"field":"g","equal":"GhRR27"}}],"mark":{"type":"text","dx":4.8,"dy":-13,"baseline":"alphabetic","font":"Liberation Serif","fontSize":16,"color":"#333"},
"encoding":{"xOffset":{"field":"a","type":"nominal"},"y":{"field":"top","type":"quantitative"},"text":{"field":"lab"}}}
]},
{"title":"GhRR28","width":380,"height":331,
"encoding":{"x":{"field":"t","type":"nominal","scale":{"domain":["0 h","1 h","3 h","6 h","9 h","12 h"],"paddingInner":0.09,"paddingOuter":0.05},"axis":{"title":null}}},
"layer":[
{"data":{"name":"bars"},"transform":[{"filter":{"field":"g","equal":"GhRR28"}},{"filter":{"field":"s","oneOf":["ZhongJ0102-CK","ZhongJ0102-NaCl","Zhong9807-CK"]}}],"mark":"bar",
"encoding":{"xOffset":{"field":"s","type":"nominal","scale":{"domain":["ZhongJ0102-CK","ZhongJ0102-NaCl","Zhong9807-CK","Zhong9807-NaCl","TM-1-CK","TM-1-NaCl"],"paddingInner":0.35,"paddingOuter":0.175}},
"y":{"field":"v","type":"quantitative","scale":{"domain":[0,0.06],"nice":false},"axis":{"values":[0,0.02,0.04,0.06],"format":".2f","title":"Relative expression\u00a0 level"}},
"fill":{"field":"s","type":"nominal","scale":{"domain":["ZhongJ0102-CK","ZhongJ0102-NaCl","Zhong9807-CK"],"range":["#00BE00","#005C00","#838383"]},"legend":{"orient":"none","legendX":-104,"legendY":2421,"direction":"horizontal","title":null,"symbolType":"M-1,-0.4H1V0.4H-1Z","symbolSize":1156,"symbolStrokeWidth":0,"labelFont":"Liberation Serif","labelFontSize":23,"labelColor":"#000","labelOffset":16,"columnPadding":15,"labelLimit":400}}}},
{"data":{"name":"bars"},"transform":[{"filter":{"field":"g","equal":"GhRR28"}},{"filter":{"field":"s","oneOf":["Zhong9807-NaCl","TM-1-CK","TM-1-NaCl"]}}],"mark":"bar",
"encoding":{"xOffset":{"field":"s","type":"nominal"},"y":{"field":"v","type":"quantitative"},
"color":{"field":"s","type":"nominal","scale":{"domain":["Zhong9807-NaCl","TM-1-CK","TM-1-NaCl"],"range":["#333333","#FA4444","#A00000"]},"legend":{"orient":"none","legendX":703,"legendY":2421,"direction":"horizontal","title":null,"symbolType":"M-1,-0.4H1V0.4H-1Z","symbolSize":1156,"symbolStrokeWidth":0,"labelFont":"Liberation Serif","labelFontSize":23,"labelColor":"#000","labelOffset":16,"columnPadding":15,"labelLimit":400}}}},
{"data":{"name":"bars"},"transform":[{"filter":{"field":"g","equal":"GhRR28"}}],"mark":{"type":"rule","strokeWidth":1.5},
"encoding":{"xOffset":{"field":"s","type":"nominal"},"y":{"field":"v","type":"quantitative"},"y2":{"field":"hi"},"stroke":{"field":"s","type":"nominal","legend":null}}},
{"data":{"name":"bars"},"transform":[{"filter":{"field":"g","equal":"GhRR28"}}],"mark":{"type":"point","shape":"M-1,0H1","size":25,"filled":false,"strokeWidth":1.5,"opacity":1},
"encoding":{"xOffset":{"field":"s","type":"nominal"},"y":{"field":"hi","type":"quantitative"},"stroke":{"field":"s","type":"nominal","legend":null}}},
{"data":{"name":"brk"},"transform":[{"filter":{"field":"g","equal":"GhRR28"}}],"mark":{"type":"rule","strokeWidth":1.5,"color":"#1a1a1a"},
"encoding":{"xOffset":{"field":"a","type":"nominal"},"y":{"field":"lo1","type":"quantitative"},"y2":{"field":"top"}}},
{"data":{"name":"brk"},"transform":[{"filter":{"field":"g","equal":"GhRR28"}}],"mark":{"type":"rule","strokeWidth":1.5,"color":"#1a1a1a"},
"encoding":{"xOffset":{"field":"b","type":"nominal"},"y":{"field":"lo2","type":"quantitative"},"y2":{"field":"top"}}},
{"data":{"name":"brk"},"transform":[{"filter":{"field":"g","equal":"GhRR28"}},{"fold":["a","b"],"as":["k","s"]}],"mark":{"type":"line","strokeWidth":1.5,"color":"#1a1a1a"},
"encoding":{"xOffset":{"field":"s","type":"nominal"},"y":{"field":"top","type":"quantitative"},"detail":[{"field":"t"},{"field":"a"}]}},
{"data":{"name":"brk"},"transform":[{"filter":{"field":"g","equal":"GhRR28"}}],"mark":{"type":"text","dx":4.8,"dy":-13,"baseline":"alphabetic","font":"Liberation Serif","fontSize":16,"color":"#333"},
"encoding":{"xOffset":{"field":"a","type":"nominal"},"y":{"field":"top","type":"quantitative"},"text":{"field":"lab"}}}
]},
{"title":"GhRR34","width":380,"height":331,
"encoding":{"x":{"field":"t","type":"nominal","scale":{"domain":["0 h","1 h","3 h","6 h","9 h","12 h"],"paddingInner":0.09,"paddingOuter":0.05},"axis":{"title":null}}},
"layer":[
{"data":{"name":"bars"},"transform":[{"filter":{"field":"g","equal":"GhRR34"}},{"filter":{"field":"s","oneOf":["ZhongJ0102-CK","ZhongJ0102-NaCl","Zhong9807-CK"]}}],"mark":"bar",
"encoding":{"xOffset":{"field":"s","type":"nominal","scale":{"domain":["ZhongJ0102-CK","ZhongJ0102-NaCl","Zhong9807-CK","Zhong9807-NaCl","TM-1-CK","TM-1-NaCl"],"paddingInner":0.35,"paddingOuter":0.175}},
"y":{"field":"v","type":"quantitative","scale":{"domain":[0,0.15],"nice":false},"axis":{"values":[0,0.05,0.1,0.15],"format":".2f","title":"Relative expression\u00a0 level"}},
"fill":{"field":"s","type":"nominal","scale":{"domain":["ZhongJ0102-CK","ZhongJ0102-NaCl","Zhong9807-CK"],"range":["#00BE00","#005C00","#838383"]},"legend":{"orient":"none","legendX":-104,"legendY":2421,"direction":"horizontal","title":null,"symbolType":"M-1,-0.4H1V0.4H-1Z","symbolSize":1156,"symbolStrokeWidth":0,"labelFont":"Liberation Serif","labelFontSize":23,"labelColor":"#000","labelOffset":16,"columnPadding":15,"labelLimit":400}}}},
{"data":{"name":"bars"},"transform":[{"filter":{"field":"g","equal":"GhRR34"}},{"filter":{"field":"s","oneOf":["Zhong9807-NaCl","TM-1-CK","TM-1-NaCl"]}}],"mark":"bar",
"encoding":{"xOffset":{"field":"s","type":"nominal"},"y":{"field":"v","type":"quantitative"},
"color":{"field":"s","type":"nominal","scale":{"domain":["Zhong9807-NaCl","TM-1-CK","TM-1-NaCl"],"range":["#333333","#FA4444","#A00000"]},"legend":{"orient":"none","legendX":703,"legendY":2421,"direction":"horizontal","title":null,"symbolType":"M-1,-0.4H1V0.4H-1Z","symbolSize":1156,"symbolStrokeWidth":0,"labelFont":"Liberation Serif","labelFontSize":23,"labelColor":"#000","labelOffset":16,"columnPadding":15,"labelLimit":400}}}},
{"data":{"name":"bars"},"transform":[{"filter":{"field":"g","equal":"GhRR34"}}],"mark":{"type":"rule","strokeWidth":1.5},
"encoding":{"xOffset":{"field":"s","type":"nominal"},"y":{"field":"v","type":"quantitative"},"y2":{"field":"hi"},"stroke":{"field":"s","type":"nominal","legend":null}}},
{"data":{"name":"bars"},"transform":[{"filter":{"field":"g","equal":"GhRR34"}}],"mark":{"type":"point","shape":"M-1,0H1","size":25,"filled":false,"strokeWidth":1.5,"opacity":1},
"encoding":{"xOffset":{"field":"s","type":"nominal"},"y":{"field":"hi","type":"quantitative"},"stroke":{"field":"s","type":"nominal","legend":null}}},
{"data":{"name":"brk"},"transform":[{"filter":{"field":"g","equal":"GhRR34"}}],"mark":{"type":"rule","strokeWidth":1.5,"color":"#1a1a1a"},
"encoding":{"xOffset":{"field":"a","type":"nominal"},"y":{"field":"lo1","type":"quantitative"},"y2":{"field":"top"}}},
{"data":{"name":"brk"},"transform":[{"filter":{"field":"g","equal":"GhRR34"}}],"mark":{"type":"rule","strokeWidth":1.5,"color":"#1a1a1a"},
"encoding":{"xOffset":{"field":"b","type":"nominal"},"y":{"field":"lo2","type":"quantitative"},"y2":{"field":"top"}}},
{"data":{"name":"brk"},"transform":[{"filter":{"field":"g","equal":"GhRR34"}},{"fold":["a","b"],"as":["k","s"]}],"mark":{"type":"line","strokeWidth":1.5,"color":"#1a1a1a"},
"encoding":{"xOffset":{"field":"s","type":"nominal"},"y":{"field":"top","type":"quantitative"},"detail":[{"field":"t"},{"field":"a"}]}},
{"data":{"name":"brk"},"transform":[{"filter":{"field":"g","equal":"GhRR34"}}],"mark":{"type":"text","dx":4.8,"dy":-13,"baseline":"alphabetic","font":"Liberation Serif","fontSize":16,"color":"#333"},
"encoding":{"xOffset":{"field":"a","type":"nominal"},"y":{"field":"top","type":"quantitative"},"text":{"field":"lab"}}}
]},
{"title":"GhRR41","width":380,"height":331,
"encoding":{"x":{"field":"t","type":"nominal","scale":{"domain":["0 h","1 h","3 h","6 h","9 h","12 h"],"paddingInner":0.09,"paddingOuter":0.05},"axis":{"title":null}}},
"layer":[
{"data":{"name":"bars"},"transform":[{"filter":{"field":"g","equal":"GhRR41"}},{"filter":{"field":"s","oneOf":["ZhongJ0102-CK","ZhongJ0102-NaCl","Zhong9807-CK"]}}],"mark":"bar",
"encoding":{"xOffset":{"field":"s","type":"nominal","scale":{"domain":["ZhongJ0102-CK","ZhongJ0102-NaCl","Zhong9807-CK","Zhong9807-NaCl","TM-1-CK","TM-1-NaCl"],"paddingInner":0.35,"paddingOuter":0.175}},
"y":{"field":"v","type":"quantitative","scale":{"domain":[0,0.04],"nice":false},"axis":{"values":[0,0.01,0.02,0.03,0.04],"format":".2f","title":"Relative expression\u00a0 level"}},
"fill":{"field":"s","type":"nominal","scale":{"domain":["ZhongJ0102-CK","ZhongJ0102-NaCl","Zhong9807-CK"],"range":["#00BE00","#005C00","#838383"]},"legend":{"orient":"none","legendX":-104,"legendY":2421,"direction":"horizontal","title":null,"symbolType":"M-1,-0.4H1V0.4H-1Z","symbolSize":1156,"symbolStrokeWidth":0,"labelFont":"Liberation Serif","labelFontSize":23,"labelColor":"#000","labelOffset":16,"columnPadding":15,"labelLimit":400}}}},
{"data":{"name":"bars"},"transform":[{"filter":{"field":"g","equal":"GhRR41"}},{"filter":{"field":"s","oneOf":["Zhong9807-NaCl","TM-1-CK","TM-1-NaCl"]}}],"mark":"bar",
"encoding":{"xOffset":{"field":"s","type":"nominal"},"y":{"field":"v","type":"quantitative"},
"color":{"field":"s","type":"nominal","scale":{"domain":["Zhong9807-NaCl","TM-1-CK","TM-1-NaCl"],"range":["#333333","#FA4444","#A00000"]},"legend":{"orient":"none","legendX":703,"legendY":2421,"direction":"horizontal","title":null,"symbolType":"M-1,-0.4H1V0.4H-1Z","symbolSize":1156,"symbolStrokeWidth":0,"labelFont":"Liberation Serif","labelFontSize":23,"labelColor":"#000","labelOffset":16,"columnPadding":15,"labelLimit":400}}}},
{"data":{"name":"bars"},"transform":[{"filter":{"field":"g","equal":"GhRR41"}}],"mark":{"type":"rule","strokeWidth":1.5},
"encoding":{"xOffset":{"field":"s","type":"nominal"},"y":{"field":"v","type":"quantitative"},"y2":{"field":"hi"},"stroke":{"field":"s","type":"nominal","legend":null}}},
{"data":{"name":"bars"},"transform":[{"filter":{"field":"g","equal":"GhRR41"}}],"mark":{"type":"point","shape":"M-1,0H1","size":25,"filled":false,"strokeWidth":1.5,"opacity":1},
"encoding":{"xOffset":{"field":"s","type":"nominal"},"y":{"field":"hi","type":"quantitative"},"stroke":{"field":"s","type":"nominal","legend":null}}},
{"data":{"name":"brk"},"transform":[{"filter":{"field":"g","equal":"GhRR41"}}],"mark":{"type":"rule","strokeWidth":1.5,"color":"#1a1a1a"},
"encoding":{"xOffset":{"field":"a","type":"nominal"},"y":{"field":"lo1","type":"quantitative"},"y2":{"field":"top"}}},
{"data":{"name":"brk"},"transform":[{"filter":{"field":"g","equal":"GhRR41"}}],"mark":{"type":"rule","strokeWidth":1.5,"color":"#1a1a1a"},
"encoding":{"xOffset":{"field":"b","type":"nominal"},"y":{"field":"lo2","type":"quantitative"},"y2":{"field":"top"}}},
{"data":{"name":"brk"},"transform":[{"filter":{"field":"g","equal":"GhRR41"}},{"fold":["a","b"],"as":["k","s"]}],"mark":{"type":"line","strokeWidth":1.5,"color":"#1a1a1a"},
"encoding":{"xOffset":{"field":"s","type":"nominal"},"y":{"field":"top","type":"quantitative"},"detail":[{"field":"t"},{"field":"a"}]}},
{"data":{"name":"brk"},"transform":[{"filter":{"field":"g","equal":"GhRR41"}}],"mark":{"type":"text","dx":4.8,"dy":-13,"baseline":"alphabetic","font":"Liberation Serif","fontSize":16,"color":"#333"},
"encoding":{"xOffset":{"field":"a","type":"nominal"},"y":{"field":"top","type":"quantitative"},"text":{"field":"lab"}}}
]},
{"title":"GhRR86","width":380,"height":331,
"encoding":{"x":{"field":"t","type":"nominal","scale":{"domain":["0 h","1 h","3 h","6 h","9 h","12 h"],"paddingInner":0.09,"paddingOuter":0.05},"axis":{"title":null}}},
"layer":[
{"data":{"name":"bars"},"transform":[{"filter":{"field":"g","equal":"GhRR86"}},{"filter":{"field":"s","oneOf":["ZhongJ0102-CK","ZhongJ0102-NaCl","Zhong9807-CK"]}}],"mark":"bar",
"encoding":{"xOffset":{"field":"s","type":"nominal","scale":{"domain":["ZhongJ0102-CK","ZhongJ0102-NaCl","Zhong9807-CK","Zhong9807-NaCl","TM-1-CK","TM-1-NaCl"],"paddingInner":0.35,"paddingOuter":0.175}},
"y":{"field":"v","type":"quantitative","scale":{"domain":[0,0.05],"nice":false},"axis":{"values":[0,0.01,0.02,0.03,0.04,0.05],"format":".2f","title":"Relative expression\u00a0 level"}},
"fill":{"field":"s","type":"nominal","scale":{"domain":["ZhongJ0102-CK","ZhongJ0102-NaCl","Zhong9807-CK"],"range":["#00BE00","#005C00","#838383"]},"legend":{"orient":"none","legendX":-104,"legendY":2421,"direction":"horizontal","title":null,"symbolType":"M-1,-0.4H1V0.4H-1Z","symbolSize":1156,"symbolStrokeWidth":0,"labelFont":"Liberation Serif","labelFontSize":23,"labelColor":"#000","labelOffset":16,"columnPadding":15,"labelLimit":400}}}},
{"data":{"name":"bars"},"transform":[{"filter":{"field":"g","equal":"GhRR86"}},{"filter":{"field":"s","oneOf":["Zhong9807-NaCl","TM-1-CK","TM-1-NaCl"]}}],"mark":"bar",
"encoding":{"xOffset":{"field":"s","type":"nominal"},"y":{"field":"v","type":"quantitative"},
"color":{"field":"s","type":"nominal","scale":{"domain":["Zhong9807-NaCl","TM-1-CK","TM-1-NaCl"],"range":["#333333","#FA4444","#A00000"]},"legend":{"orient":"none","legendX":703,"legendY":2421,"direction":"horizontal","title":null,"symbolType":"M-1,-0.4H1V0.4H-1Z","symbolSize":1156,"symbolStrokeWidth":0,"labelFont":"Liberation Serif","labelFontSize":23,"labelColor":"#000","labelOffset":16,"columnPadding":15,"labelLimit":400}}}},
{"data":{"name":"bars"},"transform":[{"filter":{"field":"g","equal":"GhRR86"}}],"mark":{"type":"rule","strokeWidth":1.5},
"encoding":{"xOffset":{"field":"s","type":"nominal"},"y":{"field":"v","type":"quantitative"},"y2":{"field":"hi"},"stroke":{"field":"s","type":"nominal","legend":null}}},
{"data":{"name":"bars"},"transform":[{"filter":{"field":"g","equal":"GhRR86"}}],"mark":{"type":"point","shape":"M-1,0H1","size":25,"filled":false,"strokeWidth":1.5,"opacity":1},
"encoding":{"xOffset":{"field":"s","type":"nominal"},"y":{"field":"hi","type":"quantitative"},"stroke":{"field":"s","type":"nominal","legend":null}}},
{"data":{"name":"brk"},"transform":[{"filter":{"field":"g","equal":"GhRR86"}}],"mark":{"type":"rule","strokeWidth":1.5,"color":"#1a1a1a"},
"encoding":{"xOffset":{"field":"a","type":"nominal"},"y":{"field":"lo1","type":"quantitative"},"y2":{"field":"top"}}},
{"data":{"name":"brk"},"transform":[{"filter":{"field":"g","equal":"GhRR86"}}],"mark":{"type":"rule","strokeWidth":1.5,"color":"#1a1a1a"},
"encoding":{"xOffset":{"field":"b","type":"nominal"},"y":{"field":"lo2","type":"quantitative"},"y2":{"field":"top"}}},
{"data":{"name":"brk"},"transform":[{"filter":{"field":"g","equal":"GhRR86"}},{"fold":["a","b"],"as":["k","s"]}],"mark":{"type":"line","strokeWidth":1.5,"color":"#1a1a1a"},
"encoding":{"xOffset":{"field":"s","type":"nominal"},"y":{"field":"top","type":"quantitative"},"detail":[{"field":"t"},{"field":"a"}]}},
{"data":{"name":"brk"},"transform":[{"filter":{"field":"g","equal":"GhRR86"}}],"mark":{"type":"text","dx":4.8,"dy":-13,"baseline":"alphabetic","font":"Liberation Serif","fontSize":16,"color":"#333"},
"encoding":{"xOffset":{"field":"a","type":"nominal"},"y":{"field":"top","type":"quantitative"},"text":{"field":"lab"}}}
]}
],
"config":{
"view":{"stroke":null},
"title":{"font":"Liberation Serif","fontSize":26,"fontStyle":"italic","fontWeight":"bold","color":"#000","frame":"group","anchor":"middle","offset":25},
"axis":{"domainColor":"#000","domainWidth":3,"tickColor":"#000","tickWidth":3,"grid":false,"labelColor":"#000","labelFont":"Liberation Sans Narrow, Arial Narrow, Liberation Sans, sans-serif","labelFontWeight":"bold","labelFontSize":23,"titleFont":"Liberation Serif","titleFontWeight":"bold","titleFontSize":28,"titleColor":"#000","labelOverlap":false},
"axisY":{"tickSize":11,"labelPadding":3,"titleX":-90,"titleBaseline":"middle"},
"axisX":{"tickSize":13,"labelPadding":6,"labelAngle":0}
}
}
